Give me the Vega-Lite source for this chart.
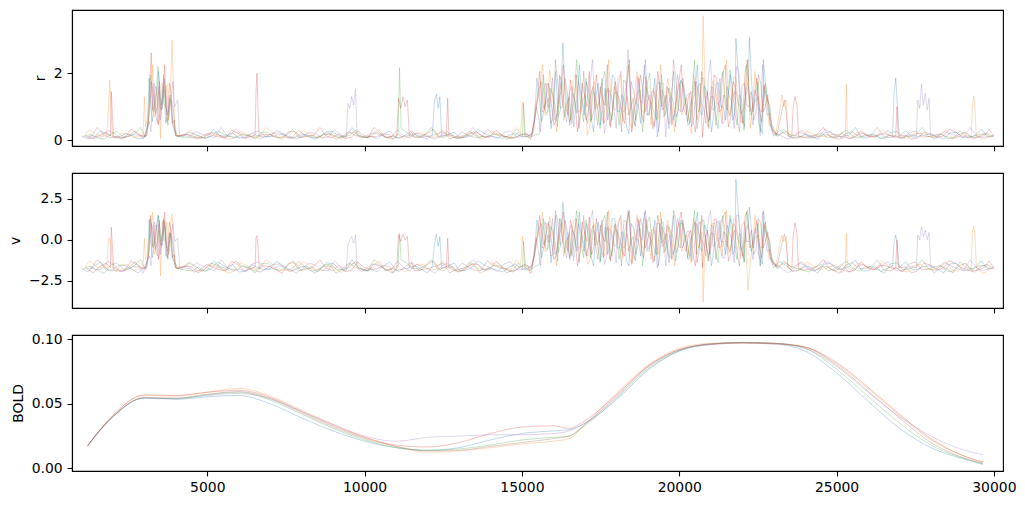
{
"$schema": "https://vega.github.io/schema/vega-lite/v6.json",
"padding": {"left": 8, "top": 9, "right": 5, "bottom": 5},
"bounds": "flush",
"config": {
 "view": {"stroke": "black", "strokeWidth": 1.1},
 "axis": {"grid": false, "domainColor": "black", "tickColor": "black", "tickWidth": 1.1, "domainWidth": 1.1, "labelColor": "black", "titleColor": "black", "labelFont": "DejaVu Sans", "titleFont": "DejaVu Sans", "labelFontSize": 13.9, "titleFontSize": 13.9, "titleFontWeight": "normal", "tickSize": 4.9, "labelPadding": 4.9, "titlePadding": 5.6}
},
"spacing": 27,
"datasets": {
"rv": [
{"s":0,"t":1000,"r":0.12,"v":-1.75},{"s":0,"t":1400,"r":0.08,"v":-1.62},{"s":0,"t":1800,"r":0.19,"v":-1.88},{"s":0,"t":2200,"r":0.10,"v":-1.55},{"s":0,"t":2600,"r":0.15,"v":-1.80},{"s":0,"t":3000,"r":0.09,"v":-1.70},
{"s":0,"t":3100,"r":0.45,"v":-1.2},{"s":0,"t":3200,"r":1.15,"v":0.3},{"s":0,"t":3300,"r":0.85,"v":-0.5},{"s":0,"t":3400,"r":1.45,"v":0.9},{"s":0,"t":3500,"r":0.95,"v":-0.2},{"s":0,"t":3600,"r":1.60,"v":1.2},{"s":0,"t":3700,"r":0.75,"v":-0.6},{"s":0,"t":3800,"r":1.25,"v":0.4},{"s":0,"t":3900,"r":0.55,"v":-1.0},{"s":0,"t":4000,"r":0.14,"v":-1.72},
{"s":0,"t":4200,"r":0.10,"v":-1.80},{"s":0,"t":4600,"r":0.18,"v":-1.58},{"s":0,"t":5000,"r":0.07,"v":-1.85},{"s":0,"t":5400,"r":0.13,"v":-1.66},{"s":0,"t":5800,"r":0.22,"v":-1.50},{"s":0,"t":6200,"r":0.09,"v":-1.92},{"s":0,"t":6600,"r":0.14,"v":-1.70},{"s":0,"t":7000,"r":0.11,"v":-1.78},{"s":0,"t":7400,"r":0.20,"v":-1.57},{"s":0,"t":7800,"r":0.08,"v":-1.83},{"s":0,"t":8200,"r":0.16,"v":-1.64},{"s":0,"t":8600,"r":0.12,"v":-1.76},{"s":0,"t":9000,"r":0.25,"v":-1.45},{"s":0,"t":9400,"r":0.09,"v":-1.90},{"s":0,"t":9800,"r":0.15,"v":-1.68},{"s":0,"t":10200,"r":0.11,"v":-1.81},{"s":0,"t":10600,"r":0.18,"v":-1.60},{"s":0,"t":11000,"r":0.07,"v":-1.87},{"s":0,"t":11400,"r":0.14,"v":-1.72},{"s":0,"t":11800,"r":0.10,"v":-1.79},
{"s":0,"t":12150,"r":0.16,"v":-1.62},{"s":0,"t":12220,"r":1.15,"v":-0.25},{"s":0,"t":12280,"r":1.38,"v":0.35},{"s":0,"t":12340,"r":0.95,"v":-0.40},{"s":0,"t":12390,"r":1.30,"v":0.20},{"s":0,"t":12450,"r":0.12,"v":-1.75},
{"s":0,"t":12700,"r":0.19,"v":-1.55},{"s":0,"t":13000,"r":0.08,"v":-1.86},{"s":0,"t":13400,"r":0.13,"v":-1.70},{"s":0,"t":13800,"r":0.21,"v":-1.52},{"s":0,"t":14200,"r":0.09,"v":-1.84},{"s":0,"t":14600,"r":0.15,"v":-1.66},{"s":0,"t":15000,"r":0.11,"v":-1.77},{"s":0,"t":15300,"r":0.18,"v":-1.60},
{"s":0,"t":15400,"r":0.60,"v":-0.9},{"s":0,"t":15550,"r":1.35,"v":0.5},{"s":0,"t":15700,"r":0.90,"v":-0.4},{"s":0,"t":15850,"r":1.70,"v":1.1},{"s":0,"t":16000,"r":1.05,"v":-0.1},{"s":0,"t":16150,"r":0.70,"v":-0.8},{"s":0,"t":16300,"r":2.90,"v":2.3},{"s":0,"t":16450,"r":0.95,"v":-0.3},{"s":0,"t":16600,"r":1.40,"v":0.6},{"s":0,"t":16750,"r":0.80,"v":-0.7},{"s":0,"t":16900,"r":1.20,"v":0.2},{"s":0,"t":17050,"r":1.75,"v":1.0},{"s":0,"t":17200,"r":0.65,"v":-1.0},{"s":0,"t":17350,"r":1.30,"v":0.4},{"s":0,"t":17500,"r":0.45,"v":-1.3},{"s":0,"t":17650,"r":1.55,"v":0.8},{"s":0,"t":17800,"r":1.00,"v":-0.2},{"s":0,"t":17950,"r":1.85,"v":1.3},{"s":0,"t":18100,"r":0.85,"v":-0.5},{"s":0,"t":18250,"r":1.25,"v":0.3},{"s":0,"t":18400,"r":0.20,"v":-1.6},{"s":0,"t":18550,"r":1.45,"v":0.7},{"s":0,"t":18700,"r":1.05,"v":0.0},{"s":0,"t":18850,"r":1.65,"v":1.0},{"s":0,"t":19000,"r":0.75,"v":-0.6},{"s":0,"t":19150,"r":1.20,"v":0.1},{"s":0,"t":19300,"r":0.10,"v":-1.7},{"s":0,"t":19450,"r":1.50,"v":0.8},{"s":0,"t":19600,"r":0.95,"v":-0.3},{"s":0,"t":19750,"r":1.35,"v":0.5},{"s":0,"t":19900,"r":0.70,"v":-0.8},{"s":0,"t":20050,"r":1.80,"v":1.2},{"s":0,"t":20200,"r":1.10,"v":0.1},{"s":0,"t":20350,"r":0.55,"v":-1.1},{"s":0,"t":20500,"r":1.40,"v":0.6},{"s":0,"t":20650,"r":0.90,"v":-0.4},{"s":0,"t":20800,"r":1.60,"v":0.9},{"s":0,"t":20950,"r":1.15,"v":0.2},{"s":0,"t":21100,"r":0.80,"v":-0.6},{"s":0,"t":21250,"r":1.70,"v":1.1},{"s":0,"t":21400,"r":1.00,"v":-0.1},{"s":0,"t":21550,"r":1.35,"v":0.4},{"s":0,"t":21700,"r":0.60,"v":-0.9},{"s":0,"t":21800,"r":3.03,"v":3.7},{"s":0,"t":21950,"r":0.95,"v":-0.4},{"s":0,"t":22100,"r":1.45,"v":0.6},{"s":0,"t":22230,"r":3.06,"v":2.0},{"s":0,"t":22350,"r":0.85,"v":-0.5},{"s":0,"t":22500,"r":1.30,"v":0.3},{"s":0,"t":22650,"r":0.20,"v":-1.5},{"s":0,"t":22800,"r":1.10,"v":0.0},{"s":0,"t":22900,"r":0.40,"v":-1.2},
{"s":0,"t":23000,"r":0.12,"v":-1.70},{"s":0,"t":23400,"r":0.17,"v":-1.58},{"s":0,"t":23800,"r":0.08,"v":-1.84},{"s":0,"t":24200,"r":0.14,"v":-1.68},{"s":0,"t":24600,"r":0.21,"v":-1.50},{"s":0,"t":25000,"r":0.10,"v":-1.80},{"s":0,"t":25400,"r":0.15,"v":-1.65},{"s":0,"t":25800,"r":0.07,"v":-1.90},{"s":0,"t":26200,"r":0.19,"v":-1.56},{"s":0,"t":26600,"r":0.12,"v":-1.74},{"s":0,"t":26780,"r":0.15,"v":-1.60},{"s":0,"t":26830,"r":1.40,"v":-0.10},{"s":0,"t":26880,"r":1.86,"v":0.30},{"s":0,"t":26930,"r":1.10,"v":-0.30},{"s":0,"t":26990,"r":0.13,"v":-1.70},{"s":0,"t":27400,"r":0.09,"v":-1.83},{"s":0,"t":27800,"r":0.16,"v":-1.62},{"s":0,"t":28200,"r":0.11,"v":-1.77},{"s":0,"t":28600,"r":0.22,"v":-1.48},{"s":0,"t":29000,"r":0.08,"v":-1.86},{"s":0,"t":29400,"r":0.14,"v":-1.70},{"s":0,"t":29800,"r":0.10,"v":-1.78},{"s":0,"t":30000,"r":0.13,"v":-1.72},
{"s":0,"t":1200,"r":0.05,"v":-1.95},{"s":0,"t":1600,"r":0.28,"v":-1.35},{"s":0,"t":2000,"r":0.11,"v":-1.80},{"s":0,"t":2400,"r":0.19,"v":-1.58},{"s":0,"t":2800,"r":0.04,"v":-2.02},
{"s":0,"t":4400,"r":0.24,"v":-1.42},{"s":0,"t":4800,"r":0.09,"v":-1.86},{"s":0,"t":5200,"r":0.33,"v":-1.28},{"s":0,"t":5600,"r":0.13,"v":-1.73},{"s":0,"t":6000,"r":0.06,"v":-1.97},{"s":0,"t":6400,"r":0.21,"v":-1.50},{"s":0,"t":6800,"r":0.10,"v":-1.83},{"s":0,"t":7200,"r":0.30,"v":-1.32},{"s":0,"t":7600,"r":0.07,"v":-1.92},{"s":0,"t":8000,"r":0.17,"v":-1.63},{"s":0,"t":8400,"r":0.03,"v":-2.05},{"s":0,"t":8800,"r":0.26,"v":-1.40},{"s":0,"t":9200,"r":0.12,"v":-1.77},{"s":0,"t":9600,"r":0.38,"v":-1.22},{"s":0,"t":10000,"r":0.08,"v":-1.90},{"s":0,"t":10400,"r":0.05,"v":-1.95},{"s":0,"t":10800,"r":0.28,"v":-1.35},{"s":0,"t":11200,"r":0.11,"v":-1.80},{"s":0,"t":11600,"r":0.19,"v":-1.58},{"s":0,"t":12000,"r":0.04,"v":-2.02},{"s":0,"t":12850,"r":0.24,"v":-1.42},{"s":0,"t":13200,"r":0.09,"v":-1.86},{"s":0,"t":13600,"r":0.33,"v":-1.28},{"s":0,"t":14000,"r":0.13,"v":-1.73},{"s":0,"t":14400,"r":0.06,"v":-1.97},{"s":0,"t":14800,"r":0.21,"v":-1.50},{"s":0,"t":15150,"r":0.10,"v":-1.83},
{"s":0,"t":23200,"r":0.30,"v":-1.32},{"s":0,"t":23600,"r":0.07,"v":-1.92},{"s":0,"t":24000,"r":0.17,"v":-1.63},{"s":0,"t":24400,"r":0.03,"v":-2.05},{"s":0,"t":24800,"r":0.26,"v":-1.40},{"s":0,"t":25200,"r":0.12,"v":-1.77},{"s":0,"t":25600,"r":0.38,"v":-1.22},{"s":0,"t":26000,"r":0.08,"v":-1.90},{"s":0,"t":26400,"r":0.05,"v":-1.95},{"s":0,"t":27200,"r":0.28,"v":-1.35},{"s":0,"t":27600,"r":0.11,"v":-1.80},{"s":0,"t":28000,"r":0.19,"v":-1.58},{"s":0,"t":28400,"r":0.04,"v":-2.02},{"s":0,"t":28800,"r":0.24,"v":-1.42},{"s":0,"t":29200,"r":0.09,"v":-1.86},{"s":0,"t":29600,"r":0.33,"v":-1.28},
{"s":0,"t":3150,"r":1.85,"v":1.2},{"s":0,"t":3250,"r":0.55,"v":-1.1},{"s":0,"t":3350,"r":1.30,"v":0.4},{"s":0,"t":3450,"r":2.05,"v":1.5},{"s":0,"t":3550,"r":0.90,"v":-0.4},{"s":0,"t":3650,"r":1.60,"v":0.9},{"s":0,"t":3750,"r":0.45,"v":-1.2},{"s":0,"t":3850,"r":1.20,"v":0.2},
{"s":0,"t":15475,"r":1.85,"v":1.2},{"s":0,"t":15625,"r":0.55,"v":-1.1},{"s":0,"t":15775,"r":1.30,"v":0.4},{"s":0,"t":15925,"r":0.35,"v":-1.4},{"s":0,"t":16075,"r":2.05,"v":1.5},{"s":0,"t":16225,"r":0.90,"v":-0.4},{"s":0,"t":16375,"r":1.60,"v":0.9},{"s":0,"t":16525,"r":0.45,"v":-1.2},{"s":0,"t":16675,"r":1.20,"v":0.2},{"s":0,"t":16825,"r":2.25,"v":1.7},{"s":0,"t":16975,"r":0.75,"v":-0.7},{"s":0,"t":17125,"r":1.45,"v":0.6},{"s":0,"t":17275,"r":0.25,"v":-1.6},{"s":0,"t":17425,"r":1.70,"v":1.1},{"s":0,"t":17575,"r":1.00,"v":-0.1},{"s":0,"t":17725,"r":0.60,"v":-0.9},{"s":0,"t":17875,"r":1.95,"v":1.3},{"s":0,"t":18025,"r":0.85,"v":-0.5},{"s":0,"t":18175,"r":1.35,"v":0.5},{"s":0,"t":18325,"r":0.40,"v":-1.3},{"s":0,"t":18475,"r":1.75,"v":1.0},{"s":0,"t":18625,"r":1.10,"v":0.0},{"s":0,"t":18775,"r":0.50,"v":-1.0},{"s":0,"t":18925,"r":2.40,"v":1.8},{"s":0,"t":19075,"r":0.95,"v":-0.3},{"s":0,"t":19225,"r":1.85,"v":1.2},{"s":0,"t":19375,"r":0.55,"v":-1.1},{"s":0,"t":19525,"r":1.30,"v":0.4},{"s":0,"t":19675,"r":0.35,"v":-1.4},{"s":0,"t":19825,"r":2.05,"v":1.5},{"s":0,"t":19975,"r":0.90,"v":-0.4},{"s":0,"t":20125,"r":1.60,"v":0.9},{"s":0,"t":20275,"r":0.45,"v":-1.2},{"s":0,"t":20425,"r":1.20,"v":0.2},{"s":0,"t":20575,"r":2.25,"v":1.7},{"s":0,"t":20725,"r":0.75,"v":-0.7},{"s":0,"t":20875,"r":1.45,"v":0.6},{"s":0,"t":21025,"r":0.25,"v":-1.6},{"s":0,"t":21175,"r":1.70,"v":1.1},{"s":0,"t":21325,"r":1.00,"v":-0.1},{"s":0,"t":21475,"r":0.60,"v":-0.9},{"s":0,"t":21625,"r":1.95,"v":1.3},{"s":0,"t":21775,"r":0.85,"v":-0.5},{"s":0,"t":21925,"r":1.35,"v":0.5},{"s":0,"t":22075,"r":0.40,"v":-1.3},{"s":0,"t":22200,"r":1.75,"v":1.0},{"s":0,"t":22375,"r":1.10,"v":0.0},{"s":0,"t":22525,"r":0.50,"v":-1.0},{"s":0,"t":22675,"r":2.40,"v":1.8},{"s":0,"t":22825,"r":0.95,"v":-0.3},

{"s":1,"t":1060,"r":0.09,"v":-1.82},{"s":1,"t":1460,"r":0.17,"v":-1.60},{"s":1,"t":1800,"r":0.12,"v":-1.75},{"s":1,"t":1860,"r":0.95,"v":0.10},{"s":1,"t":1900,"r":1.80,"v":0.05},{"s":1,"t":1940,"r":0.90,"v":-0.30},{"s":1,"t":1990,"r":0.11,"v":-1.70},{"s":1,"t":2260,"r":0.20,"v":-1.52},{"s":1,"t":2660,"r":0.08,"v":-1.87},{"s":1,"t":2960,"r":0.15,"v":-1.66},{"s":1,"t":3000,"r":1.30,"v":0.10},{"s":1,"t":3040,"r":0.40,"v":-1.2},
{"s":1,"t":3115,"r":0.80,"v":-0.6},{"s":1,"t":3215,"r":1.50,"v":0.9},{"s":1,"t":3315,"r":0.70,"v":-0.9},{"s":1,"t":3415,"r":1.25,"v":0.3},{"s":1,"t":3515,"r":0.05,"v":-2.2},{"s":1,"t":3615,"r":1.10,"v":0.0},{"s":1,"t":3715,"r":1.65,"v":1.1},{"s":1,"t":3815,"r":0.95,"v":-0.4},{"s":1,"t":3880,"r":2.98,"v":1.6},{"s":1,"t":3950,"r":0.60,"v":-1.0},{"s":1,"t":4015,"r":0.13,"v":-1.75},
{"s":1,"t":4260,"r":0.16,"v":-1.63},{"s":1,"t":4660,"r":0.09,"v":-1.84},{"s":1,"t":5060,"r":0.21,"v":-1.52},{"s":1,"t":5460,"r":0.12,"v":-1.74},{"s":1,"t":5860,"r":0.07,"v":-1.90},{"s":1,"t":6260,"r":0.17,"v":-1.60},{"s":1,"t":6660,"r":0.11,"v":-1.79},{"s":1,"t":7060,"r":0.24,"v":-1.47},{"s":1,"t":7460,"r":0.09,"v":-1.85},{"s":1,"t":7860,"r":0.14,"v":-1.69},{"s":1,"t":8260,"r":0.19,"v":-1.57},{"s":1,"t":8660,"r":0.08,"v":-1.88},{"s":1,"t":9060,"r":0.13,"v":-1.71},{"s":1,"t":9460,"r":0.20,"v":-1.55},{"s":1,"t":9860,"r":0.10,"v":-1.81},{"s":1,"t":10260,"r":0.15,"v":-1.65},{"s":1,"t":10660,"r":0.07,"v":-1.89},{"s":1,"t":11060,"r":0.18,"v":-1.58},{"s":1,"t":11460,"r":0.12,"v":-1.76},{"s":1,"t":11860,"r":0.22,"v":-1.50},{"s":1,"t":12260,"r":0.09,"v":-1.83},{"s":1,"t":12660,"r":0.14,"v":-1.68},{"s":1,"t":13060,"r":0.11,"v":-1.78},{"s":1,"t":13460,"r":0.26,"v":-1.42},{"s":1,"t":13860,"r":0.08,"v":-1.86},{"s":1,"t":14260,"r":0.16,"v":-1.62},{"s":1,"t":14660,"r":0.10,"v":-1.80},{"s":1,"t":14960,"r":0.20,"v":-1.50},{"s":1,"t":15020,"r":1.15,"v":0.20},{"s":1,"t":15060,"r":0.85,"v":-0.30},{"s":1,"t":15120,"r":0.13,"v":-1.70},{"s":1,"t":15320,"r":0.17,"v":-1.62},
{"s":1,"t":15430,"r":1.05,"v":-0.2},{"s":1,"t":15580,"r":1.60,"v":0.9},{"s":1,"t":15730,"r":0.75,"v":-0.7},{"s":1,"t":15880,"r":2.10,"v":1.4},{"s":1,"t":16030,"r":0.95,"v":-0.3},{"s":1,"t":16180,"r":1.40,"v":0.5},{"s":1,"t":16330,"r":0.60,"v":-1.0},{"s":1,"t":16480,"r":1.25,"v":0.2},{"s":1,"t":16630,"r":1.80,"v":1.1},{"s":1,"t":16780,"r":0.85,"v":-0.5},{"s":1,"t":16930,"r":1.15,"v":0.1},{"s":1,"t":17080,"r":0.15,"v":-1.5},{"s":1,"t":17230,"r":1.50,"v":0.7},{"s":1,"t":17380,"r":1.00,"v":-0.2},{"s":1,"t":17530,"r":1.70,"v":1.0},{"s":1,"t":17680,"r":0.70,"v":-0.8},{"s":1,"t":17830,"r":1.30,"v":0.4},{"s":1,"t":17980,"r":0.90,"v":-0.4},{"s":1,"t":18130,"r":1.95,"v":1.3},{"s":1,"t":18280,"r":1.05,"v":-0.1},{"s":1,"t":18430,"r":0.50,"v":-1.2},{"s":1,"t":18580,"r":1.35,"v":0.5},{"s":1,"t":18730,"r":1.75,"v":1.0},{"s":1,"t":18880,"r":0.80,"v":-0.6},{"s":1,"t":19030,"r":1.20,"v":0.2},{"s":1,"t":19180,"r":1.55,"v":0.8},{"s":1,"t":19330,"r":0.65,"v":-0.9},{"s":1,"t":19480,"r":1.10,"v":0.0},{"s":1,"t":19630,"r":1.85,"v":1.2},{"s":1,"t":19780,"r":0.95,"v":-0.3},{"s":1,"t":19930,"r":1.40,"v":0.6},{"s":1,"t":20080,"r":0.75,"v":-0.7},{"s":1,"t":20230,"r":1.25,"v":0.3},{"s":1,"t":20380,"r":0.20,"v":-1.4},{"s":1,"t":20530,"r":1.60,"v":0.9},{"s":1,"t":20680,"r":1.00,"v":-0.1},{"s":1,"t":20760,"r":3.71,"v":-3.8},{"s":1,"t":20830,"r":1.30,"v":0.3},{"s":1,"t":20980,"r":0.85,"v":-0.5},{"s":1,"t":21130,"r":1.65,"v":1.0},{"s":1,"t":21280,"r":1.05,"v":-0.2},{"s":1,"t":21430,"r":1.45,"v":0.6},{"s":1,"t":21580,"r":0.70,"v":-0.8},{"s":1,"t":21730,"r":1.90,"v":1.3},{"s":1,"t":21880,"r":1.10,"v":0.0},{"s":1,"t":22030,"r":0.55,"v":-1.1},{"s":1,"t":22180,"r":2.40,"v":-3.1},{"s":1,"t":22330,"r":1.00,"v":-0.3},{"s":1,"t":22480,"r":1.50,"v":0.7},{"s":1,"t":22630,"r":0.85,"v":-0.5},{"s":1,"t":22780,"r":1.20,"v":0.2},{"s":1,"t":22920,"r":0.45,"v":-1.1},
{"s":1,"t":23060,"r":0.14,"v":-1.68},{"s":1,"t":23200,"r":0.90,"v":-0.20},{"s":1,"t":23260,"r":1.35,"v":0.30},{"s":1,"t":23320,"r":1.00,"v":-0.10},{"s":1,"t":23400,"r":1.20,"v":0.20},{"s":1,"t":23460,"r":0.15,"v":-1.62},{"s":1,"t":23860,"r":0.09,"v":-1.85},{"s":1,"t":24260,"r":0.18,"v":-1.57},{"s":1,"t":24660,"r":0.11,"v":-1.77},{"s":1,"t":25060,"r":0.16,"v":-1.64},{"s":1,"t":25280,"r":0.12,"v":-1.72},{"s":1,"t":25310,"r":1.67,"v":0.40},{"s":1,"t":25340,"r":0.14,"v":-1.66},{"s":1,"t":25460,"r":0.08,"v":-1.87},{"s":1,"t":25860,"r":0.20,"v":-1.53},{"s":1,"t":26260,"r":0.10,"v":-1.80},{"s":1,"t":26660,"r":0.15,"v":-1.66},{"s":1,"t":27060,"r":0.07,"v":-1.91},{"s":1,"t":27460,"r":0.19,"v":-1.56},{"s":1,"t":27860,"r":0.12,"v":-1.75},{"s":1,"t":28260,"r":0.16,"v":-1.63},{"s":1,"t":28660,"r":0.09,"v":-1.84},{"s":1,"t":29060,"r":0.23,"v":-1.46},{"s":1,"t":29280,"r":0.11,"v":-1.78},{"s":1,"t":29320,"r":1.05,"v":0.55},{"s":1,"t":29360,"r":1.32,"v":0.85},{"s":1,"t":29400,"r":0.95,"v":0.30},{"s":1,"t":29440,"r":0.13,"v":-1.70},{"s":1,"t":29860,"r":0.10,"v":-1.80},{"s":1,"t":30000,"r":0.15,"v":-1.64},
{"s":1,"t":1260,"r":0.33,"v":-1.28},{"s":1,"t":1660,"r":0.13,"v":-1.73},{"s":1,"t":2100,"r":0.06,"v":-1.97},{"s":1,"t":2460,"r":0.21,"v":-1.50},{"s":1,"t":2760,"r":0.10,"v":-1.83},
{"s":1,"t":4460,"r":0.30,"v":-1.32},{"s":1,"t":4860,"r":0.07,"v":-1.92},{"s":1,"t":5260,"r":0.17,"v":-1.63},{"s":1,"t":5660,"r":0.03,"v":-2.05},{"s":1,"t":6060,"r":0.26,"v":-1.40},{"s":1,"t":6460,"r":0.12,"v":-1.77},{"s":1,"t":6860,"r":0.38,"v":-1.22},{"s":1,"t":7260,"r":0.08,"v":-1.90},{"s":1,"t":7660,"r":0.05,"v":-1.95},{"s":1,"t":8060,"r":0.28,"v":-1.35},{"s":1,"t":8460,"r":0.11,"v":-1.80},{"s":1,"t":8860,"r":0.19,"v":-1.58},{"s":1,"t":9260,"r":0.04,"v":-2.02},{"s":1,"t":9660,"r":0.24,"v":-1.42},{"s":1,"t":10060,"r":0.09,"v":-1.86},{"s":1,"t":10460,"r":0.33,"v":-1.28},{"s":1,"t":10860,"r":0.13,"v":-1.73},{"s":1,"t":11260,"r":0.06,"v":-1.97},{"s":1,"t":11660,"r":0.21,"v":-1.50},{"s":1,"t":12060,"r":0.10,"v":-1.83},{"s":1,"t":12460,"r":0.30,"v":-1.32},{"s":1,"t":12860,"r":0.07,"v":-1.92},{"s":1,"t":13260,"r":0.17,"v":-1.63},{"s":1,"t":13660,"r":0.03,"v":-2.05},{"s":1,"t":14060,"r":0.26,"v":-1.40},{"s":1,"t":14460,"r":0.12,"v":-1.77},{"s":1,"t":14820,"r":0.38,"v":-1.22},{"s":1,"t":15220,"r":0.08,"v":-1.90},
{"s":1,"t":23660,"r":0.05,"v":-1.95},{"s":1,"t":24060,"r":0.28,"v":-1.35},{"s":1,"t":24460,"r":0.11,"v":-1.80},{"s":1,"t":24860,"r":0.19,"v":-1.58},{"s":1,"t":25170,"r":0.04,"v":-2.02},{"s":1,"t":25660,"r":0.24,"v":-1.42},{"s":1,"t":26060,"r":0.09,"v":-1.86},{"s":1,"t":26460,"r":0.33,"v":-1.28},{"s":1,"t":26860,"r":0.13,"v":-1.73},{"s":1,"t":27260,"r":0.06,"v":-1.97},{"s":1,"t":27660,"r":0.21,"v":-1.50},{"s":1,"t":28060,"r":0.10,"v":-1.83},{"s":1,"t":28460,"r":0.30,"v":-1.32},{"s":1,"t":28860,"r":0.07,"v":-1.92},{"s":1,"t":29180,"r":0.17,"v":-1.63},{"s":1,"t":29660,"r":0.03,"v":-2.05},
{"s":1,"t":3165,"r":1.20,"v":0.2},{"s":1,"t":3265,"r":2.25,"v":1.7},{"s":1,"t":3365,"r":0.75,"v":-0.7},{"s":1,"t":3465,"r":1.45,"v":0.6},{"s":1,"t":3565,"r":1.70,"v":1.1},{"s":1,"t":3665,"r":1.00,"v":-0.1},{"s":1,"t":3765,"r":0.60,"v":-0.9},{"s":1,"t":3845,"r":1.95,"v":1.3},
{"s":1,"t":15505,"r":1.20,"v":0.2},{"s":1,"t":15655,"r":2.25,"v":1.7},{"s":1,"t":15805,"r":0.75,"v":-0.7},{"s":1,"t":15955,"r":1.45,"v":0.6},{"s":1,"t":16105,"r":0.25,"v":-1.6},{"s":1,"t":16255,"r":1.70,"v":1.1},{"s":1,"t":16405,"r":1.00,"v":-0.1},{"s":1,"t":16555,"r":0.60,"v":-0.9},{"s":1,"t":16705,"r":1.95,"v":1.3},{"s":1,"t":16855,"r":0.85,"v":-0.5},{"s":1,"t":17005,"r":1.35,"v":0.5},{"s":1,"t":17155,"r":0.40,"v":-1.3},{"s":1,"t":17305,"r":1.75,"v":1.0},{"s":1,"t":17455,"r":1.10,"v":0.0},{"s":1,"t":17605,"r":0.50,"v":-1.0},{"s":1,"t":17755,"r":2.40,"v":1.8},{"s":1,"t":17905,"r":0.95,"v":-0.3},{"s":1,"t":18055,"r":1.85,"v":1.2},{"s":1,"t":18205,"r":0.55,"v":-1.1},{"s":1,"t":18355,"r":1.30,"v":0.4},{"s":1,"t":18505,"r":0.35,"v":-1.4},{"s":1,"t":18655,"r":2.05,"v":1.5},{"s":1,"t":18805,"r":0.90,"v":-0.4},{"s":1,"t":18955,"r":1.60,"v":0.9},{"s":1,"t":19105,"r":0.45,"v":-1.2},{"s":1,"t":19255,"r":1.20,"v":0.2},{"s":1,"t":19405,"r":2.25,"v":1.7},{"s":1,"t":19555,"r":0.75,"v":-0.7},{"s":1,"t":19705,"r":1.45,"v":0.6},{"s":1,"t":19855,"r":0.25,"v":-1.6},{"s":1,"t":20005,"r":1.70,"v":1.1},{"s":1,"t":20155,"r":1.00,"v":-0.1},{"s":1,"t":20305,"r":0.60,"v":-0.9},{"s":1,"t":20455,"r":1.95,"v":1.3},{"s":1,"t":20605,"r":0.85,"v":-0.5},{"s":1,"t":20720,"r":1.35,"v":0.5},{"s":1,"t":20905,"r":0.40,"v":-1.3},{"s":1,"t":21055,"r":1.75,"v":1.0},{"s":1,"t":21205,"r":1.10,"v":0.0},{"s":1,"t":21355,"r":0.50,"v":-1.0},{"s":1,"t":21505,"r":2.40,"v":1.8},{"s":1,"t":21655,"r":0.95,"v":-0.3},{"s":1,"t":21805,"r":1.85,"v":1.2},{"s":1,"t":21955,"r":0.55,"v":-1.1},{"s":1,"t":22105,"r":1.30,"v":0.4},{"s":1,"t":22255,"r":0.35,"v":-1.4},{"s":1,"t":22405,"r":2.05,"v":1.5},{"s":1,"t":22555,"r":0.90,"v":-0.4},{"s":1,"t":22705,"r":1.60,"v":0.9},{"s":1,"t":22855,"r":0.45,"v":-1.2},

{"s":2,"t":1120,"r":0.14,"v":-1.69},{"s":2,"t":1520,"r":0.07,"v":-1.88},{"s":2,"t":1920,"r":0.18,"v":-1.57},{"s":2,"t":2320,"r":0.11,"v":-1.78},{"s":2,"t":2720,"r":0.22,"v":-1.50},{"s":2,"t":3030,"r":0.10,"v":-1.80},
{"s":2,"t":3130,"r":0.60,"v":-1.0},{"s":2,"t":3230,"r":1.35,"v":0.6},{"s":2,"t":3330,"r":0.90,"v":-0.3},{"s":2,"t":3430,"r":2.20,"v":1.5},{"s":2,"t":3530,"r":1.05,"v":-0.1},{"s":2,"t":3630,"r":1.50,"v":0.8},{"s":2,"t":3730,"r":0.70,"v":-0.8},{"s":2,"t":3830,"r":1.20,"v":0.3},{"s":2,"t":3930,"r":0.35,"v":-1.3},{"s":2,"t":4030,"r":0.12,"v":-1.74},
{"s":2,"t":4320,"r":0.08,"v":-1.86},{"s":2,"t":4720,"r":0.15,"v":-1.65},{"s":2,"t":5120,"r":0.11,"v":-1.77},{"s":2,"t":5520,"r":0.19,"v":-1.56},{"s":2,"t":5920,"r":0.09,"v":-1.84},{"s":2,"t":6320,"r":0.14,"v":-1.70},{"s":2,"t":6720,"r":0.24,"v":-1.46},{"s":2,"t":7120,"r":0.10,"v":-1.81},{"s":2,"t":7520,"r":0.16,"v":-1.63},{"s":2,"t":7920,"r":0.07,"v":-1.90},{"s":2,"t":8320,"r":0.13,"v":-1.72},{"s":2,"t":8720,"r":0.21,"v":-1.52},{"s":2,"t":9120,"r":0.09,"v":-1.85},{"s":2,"t":9520,"r":0.15,"v":-1.66},{"s":2,"t":9920,"r":0.11,"v":-1.78},{"s":2,"t":10320,"r":0.26,"v":-1.43},{"s":2,"t":10720,"r":0.08,"v":-1.87},{"s":2,"t":11060,"r":0.14,"v":-1.68},{"s":2,"t":11110,"r":2.16,"v":0.40},{"s":2,"t":11160,"r":0.35,"v":-1.20},{"s":2,"t":11520,"r":0.12,"v":-1.75},{"s":2,"t":11920,"r":0.17,"v":-1.60},{"s":2,"t":12320,"r":0.10,"v":-1.80},{"s":2,"t":12720,"r":0.20,"v":-1.54},{"s":2,"t":13120,"r":0.08,"v":-1.88},{"s":2,"t":13520,"r":0.14,"v":-1.69},{"s":2,"t":13920,"r":0.11,"v":-1.77},{"s":2,"t":14320,"r":0.18,"v":-1.58},{"s":2,"t":14720,"r":0.09,"v":-1.83},{"s":2,"t":15020,"r":0.13,"v":-1.71},{"s":2,"t":15050,"r":1.10,"v":-0.1},{"s":2,"t":15090,"r":0.12,"v":-1.72},{"s":2,"t":15420,"r":0.16,"v":-1.62},{"s":2,"t":15560,"r":0.20,"v":-1.50},
{"s":2,"t":15610,"r":1.20,"v":0.3},{"s":2,"t":15760,"r":0.80,"v":-0.6},{"s":2,"t":15910,"r":1.55,"v":0.8},{"s":2,"t":16060,"r":1.00,"v":-0.2},{"s":2,"t":16210,"r":1.90,"v":1.3},{"s":2,"t":16360,"r":0.70,"v":-0.8},{"s":2,"t":16510,"r":1.30,"v":0.4},{"s":2,"t":16660,"r":0.95,"v":-0.3},{"s":2,"t":16810,"r":1.65,"v":1.0},{"s":2,"t":16960,"r":0.55,"v":-1.1},{"s":2,"t":17110,"r":1.20,"v":0.2},{"s":2,"t":17260,"r":1.45,"v":0.6},{"s":2,"t":17410,"r":0.85,"v":-0.5},{"s":2,"t":17560,"r":1.75,"v":1.1},{"s":2,"t":17710,"r":1.05,"v":-0.1},{"s":2,"t":17860,"r":0.60,"v":-1.0},{"s":2,"t":18010,"r":1.35,"v":0.5},{"s":2,"t":18160,"r":0.90,"v":-0.4},{"s":2,"t":18310,"r":1.60,"v":0.9},{"s":2,"t":18460,"r":1.10,"v":0.0},{"s":2,"t":18610,"r":0.40,"v":-1.3},{"s":2,"t":18760,"r":1.50,"v":0.7},{"s":2,"t":18910,"r":1.00,"v":-0.2},{"s":2,"t":19060,"r":2.00,"v":1.4},{"s":2,"t":19210,"r":0.80,"v":-0.6},{"s":2,"t":19360,"r":1.25,"v":0.3},{"s":2,"t":19510,"r":0.70,"v":-0.8},{"s":2,"t":19660,"r":1.55,"v":0.8},{"s":2,"t":19810,"r":1.15,"v":0.1},{"s":2,"t":19960,"r":0.90,"v":-0.4},{"s":2,"t":20110,"r":1.70,"v":1.0},{"s":2,"t":20260,"r":1.00,"v":-0.2},{"s":2,"t":20410,"r":1.40,"v":0.5},{"s":2,"t":20560,"r":0.60,"v":-0.9},{"s":2,"t":20710,"r":1.85,"v":1.2},{"s":2,"t":20860,"r":0.95,"v":-0.3},{"s":2,"t":21010,"r":1.30,"v":0.4},{"s":2,"t":21160,"r":0.75,"v":-0.7},{"s":2,"t":21310,"r":1.60,"v":0.9},{"s":2,"t":21460,"r":1.05,"v":-0.1},{"s":2,"t":21610,"r":2.10,"v":1.5},{"s":2,"t":21760,"r":0.85,"v":-0.5},{"s":2,"t":21910,"r":1.35,"v":0.4},{"s":2,"t":22060,"r":0.30,"v":-1.4},{"s":2,"t":22210,"r":1.50,"v":0.7},{"s":2,"t":22360,"r":1.00,"v":-0.2},{"s":2,"t":22510,"r":1.75,"v":1.0},{"s":2,"t":22660,"r":0.90,"v":-0.4},{"s":2,"t":22810,"r":1.20,"v":0.2},{"s":2,"t":22930,"r":0.50,"v":-1.0},
{"s":2,"t":23120,"r":0.11,"v":-1.78},{"s":2,"t":23520,"r":0.17,"v":-1.60},{"s":2,"t":23920,"r":0.09,"v":-1.85},{"s":2,"t":24320,"r":0.14,"v":-1.68},{"s":2,"t":24720,"r":0.08,"v":-1.88},{"s":2,"t":25120,"r":0.20,"v":-1.54},{"s":2,"t":25520,"r":0.12,"v":-1.74},{"s":2,"t":25920,"r":0.16,"v":-1.63},{"s":2,"t":26320,"r":0.10,"v":-1.82},{"s":2,"t":26720,"r":0.23,"v":-1.47},{"s":2,"t":27120,"r":0.09,"v":-1.84},{"s":2,"t":27520,"r":0.15,"v":-1.66},{"s":2,"t":27920,"r":0.11,"v":-1.77},{"s":2,"t":28320,"r":0.19,"v":-1.56},{"s":2,"t":28720,"r":0.07,"v":-1.90},{"s":2,"t":29120,"r":0.13,"v":-1.71},{"s":2,"t":29520,"r":0.18,"v":-1.58},{"s":2,"t":29920,"r":0.10,"v":-1.80},
{"s":2,"t":1320,"r":0.17,"v":-1.63},{"s":2,"t":1720,"r":0.03,"v":-2.05},{"s":2,"t":2120,"r":0.26,"v":-1.40},{"s":2,"t":2520,"r":0.12,"v":-1.77},{"s":2,"t":2880,"r":0.38,"v":-1.22},
{"s":2,"t":4520,"r":0.08,"v":-1.90},{"s":2,"t":4920,"r":0.05,"v":-1.95},{"s":2,"t":5320,"r":0.28,"v":-1.35},{"s":2,"t":5720,"r":0.11,"v":-1.80},{"s":2,"t":6120,"r":0.19,"v":-1.58},{"s":2,"t":6520,"r":0.04,"v":-2.02},{"s":2,"t":6920,"r":0.24,"v":-1.42},{"s":2,"t":7320,"r":0.09,"v":-1.86},{"s":2,"t":7720,"r":0.33,"v":-1.28},{"s":2,"t":8120,"r":0.13,"v":-1.73},{"s":2,"t":8520,"r":0.06,"v":-1.97},{"s":2,"t":8920,"r":0.21,"v":-1.50},{"s":2,"t":9320,"r":0.10,"v":-1.83},{"s":2,"t":9720,"r":0.30,"v":-1.32},{"s":2,"t":10120,"r":0.07,"v":-1.92},{"s":2,"t":10520,"r":0.17,"v":-1.63},{"s":2,"t":10900,"r":0.03,"v":-2.05},{"s":2,"t":11320,"r":0.26,"v":-1.40},{"s":2,"t":11720,"r":0.12,"v":-1.77},{"s":2,"t":12120,"r":0.38,"v":-1.22},{"s":2,"t":12520,"r":0.08,"v":-1.90},{"s":2,"t":12920,"r":0.05,"v":-1.95},{"s":2,"t":13320,"r":0.28,"v":-1.35},{"s":2,"t":13720,"r":0.11,"v":-1.80},{"s":2,"t":14120,"r":0.19,"v":-1.58},{"s":2,"t":14520,"r":0.04,"v":-2.02},{"s":2,"t":14880,"r":0.24,"v":-1.42},{"s":2,"t":15250,"r":0.09,"v":-1.86},
{"s":2,"t":23320,"r":0.33,"v":-1.28},{"s":2,"t":23720,"r":0.13,"v":-1.73},{"s":2,"t":24120,"r":0.06,"v":-1.97},{"s":2,"t":24520,"r":0.21,"v":-1.50},{"s":2,"t":24920,"r":0.10,"v":-1.83},{"s":2,"t":25320,"r":0.30,"v":-1.32},{"s":2,"t":25720,"r":0.07,"v":-1.92},{"s":2,"t":26120,"r":0.17,"v":-1.63},{"s":2,"t":26520,"r":0.03,"v":-2.05},{"s":2,"t":26920,"r":0.26,"v":-1.40},{"s":2,"t":27320,"r":0.12,"v":-1.77},{"s":2,"t":27720,"r":0.38,"v":-1.22},{"s":2,"t":28120,"r":0.08,"v":-1.90},{"s":2,"t":28520,"r":0.05,"v":-1.95},{"s":2,"t":28920,"r":0.28,"v":-1.35},{"s":2,"t":29320,"r":0.11,"v":-1.80},{"s":2,"t":29720,"r":0.19,"v":-1.58},
{"s":2,"t":3180,"r":1.95,"v":1.3},{"s":2,"t":3280,"r":0.85,"v":-0.5},{"s":2,"t":3380,"r":1.35,"v":0.5},{"s":2,"t":3480,"r":1.75,"v":1.0},{"s":2,"t":3580,"r":1.10,"v":0.0},{"s":2,"t":3680,"r":0.50,"v":-1.0},{"s":2,"t":3780,"r":0.95,"v":-0.3},{"s":2,"t":3880,"r":0.55,"v":-1.1},
{"s":2,"t":15685,"r":1.95,"v":1.3},{"s":2,"t":15835,"r":0.85,"v":-0.5},{"s":2,"t":15985,"r":1.35,"v":0.5},{"s":2,"t":16135,"r":0.40,"v":-1.3},{"s":2,"t":16285,"r":1.75,"v":1.0},{"s":2,"t":16435,"r":1.10,"v":0.0},{"s":2,"t":16585,"r":0.50,"v":-1.0},{"s":2,"t":16735,"r":2.40,"v":1.8},{"s":2,"t":16885,"r":0.95,"v":-0.3},{"s":2,"t":17035,"r":1.85,"v":1.2},{"s":2,"t":17185,"r":0.55,"v":-1.1},{"s":2,"t":17335,"r":1.30,"v":0.4},{"s":2,"t":17485,"r":0.35,"v":-1.4},{"s":2,"t":17635,"r":2.05,"v":1.5},{"s":2,"t":17785,"r":0.90,"v":-0.4},{"s":2,"t":17935,"r":1.60,"v":0.9},{"s":2,"t":18085,"r":0.45,"v":-1.2},{"s":2,"t":18235,"r":1.20,"v":0.2},{"s":2,"t":18385,"r":2.25,"v":1.7},{"s":2,"t":18535,"r":0.75,"v":-0.7},{"s":2,"t":18685,"r":1.45,"v":0.6},{"s":2,"t":18835,"r":0.25,"v":-1.6},{"s":2,"t":18985,"r":1.70,"v":1.1},{"s":2,"t":19135,"r":1.00,"v":-0.1},{"s":2,"t":19285,"r":0.60,"v":-0.9},{"s":2,"t":19435,"r":1.95,"v":1.3},{"s":2,"t":19585,"r":0.85,"v":-0.5},{"s":2,"t":19735,"r":1.35,"v":0.5},{"s":2,"t":19885,"r":0.40,"v":-1.3},{"s":2,"t":20035,"r":1.75,"v":1.0},{"s":2,"t":20185,"r":1.10,"v":0.0},{"s":2,"t":20335,"r":0.50,"v":-1.0},{"s":2,"t":20485,"r":2.40,"v":1.8},{"s":2,"t":20635,"r":0.95,"v":-0.3},{"s":2,"t":20785,"r":1.85,"v":1.2},{"s":2,"t":20935,"r":0.55,"v":-1.1},{"s":2,"t":21085,"r":1.30,"v":0.4},{"s":2,"t":21235,"r":0.35,"v":-1.4},{"s":2,"t":21385,"r":2.05,"v":1.5},{"s":2,"t":21535,"r":0.90,"v":-0.4},{"s":2,"t":21685,"r":1.60,"v":0.9},{"s":2,"t":21835,"r":0.45,"v":-1.2},{"s":2,"t":21985,"r":1.20,"v":0.2},{"s":2,"t":22135,"r":2.25,"v":1.7},{"s":2,"t":22285,"r":0.75,"v":-0.7},{"s":2,"t":22435,"r":1.45,"v":0.6},{"s":2,"t":22585,"r":0.25,"v":-1.6},{"s":2,"t":22735,"r":1.70,"v":1.1},{"s":2,"t":22885,"r":1.00,"v":-0.1},

{"s":3,"t":1180,"r":0.10,"v":-1.79},{"s":3,"t":1580,"r":0.16,"v":-1.63},{"s":3,"t":1920,"r":0.13,"v":-1.70},{"s":3,"t":1950,"r":1.45,"v":0.77},{"s":3,"t":1980,"r":0.85,"v":-0.20},{"s":3,"t":2020,"r":0.12,"v":-1.72},{"s":3,"t":2380,"r":0.08,"v":-1.86},{"s":3,"t":2780,"r":0.19,"v":-1.55},{"s":3,"t":3080,"r":0.14,"v":-1.66},
{"s":3,"t":3145,"r":0.70,"v":-0.8},{"s":3,"t":3220,"r":2.60,"v":1.0},{"s":3,"t":3300,"r":1.00,"v":-0.2},{"s":3,"t":3395,"r":1.55,"v":0.9},{"s":3,"t":3495,"r":0.80,"v":-0.6},{"s":3,"t":3595,"r":1.30,"v":0.4},{"s":3,"t":3695,"r":0.95,"v":-0.3},{"s":3,"t":3795,"r":1.70,"v":1.1},{"s":3,"t":3895,"r":0.50,"v":-1.1},{"s":3,"t":3990,"r":0.13,"v":-1.72},
{"s":3,"t":4380,"r":0.17,"v":-1.61},{"s":3,"t":4780,"r":0.09,"v":-1.84},{"s":3,"t":5180,"r":0.14,"v":-1.69},{"s":3,"t":5580,"r":0.07,"v":-1.90},{"s":3,"t":5980,"r":0.21,"v":-1.51},{"s":3,"t":6380,"r":0.11,"v":-1.77},{"s":3,"t":6520,"r":0.15,"v":-1.65},{"s":3,"t":6550,"r":1.50,"v":0.15},{"s":3,"t":6580,"r":2.00,"v":0.25},{"s":3,"t":6610,"r":0.90,"v":-0.40},{"s":3,"t":6650,"r":0.12,"v":-1.74},{"s":3,"t":6780,"r":0.18,"v":-1.58},{"s":3,"t":7180,"r":0.10,"v":-1.81},{"s":3,"t":7580,"r":0.25,"v":-1.44},{"s":3,"t":7980,"r":0.08,"v":-1.87},{"s":3,"t":8380,"r":0.15,"v":-1.66},{"s":3,"t":8780,"r":0.12,"v":-1.75},{"s":3,"t":9180,"r":0.19,"v":-1.56},{"s":3,"t":9580,"r":0.09,"v":-1.85},{"s":3,"t":9980,"r":0.14,"v":-1.70},{"s":3,"t":10380,"r":0.11,"v":-1.78},{"s":3,"t":10780,"r":0.17,"v":-1.61},{"s":3,"t":11020,"r":0.13,"v":-1.70},{"s":3,"t":11080,"r":1.25,"v":0.30},{"s":3,"t":11150,"r":0.95,"v":-0.10},{"s":3,"t":11220,"r":1.30,"v":0.35},{"s":3,"t":11290,"r":1.00,"v":0.00},{"s":3,"t":11360,"r":1.20,"v":0.20},{"s":3,"t":11420,"r":0.15,"v":-1.65},{"s":3,"t":11580,"r":0.08,"v":-1.88},{"s":3,"t":11980,"r":0.20,"v":-1.53},{"s":3,"t":12380,"r":0.10,"v":-1.80},{"s":3,"t":12600,"r":0.14,"v":-1.68},{"s":3,"t":12640,"r":1.25,"v":0.10},{"s":3,"t":12680,"r":0.12,"v":-1.73},{"s":3,"t":12780,"r":0.16,"v":-1.63},{"s":3,"t":13180,"r":0.09,"v":-1.84},{"s":3,"t":13580,"r":0.22,"v":-1.49},{"s":3,"t":13980,"r":0.11,"v":-1.77},{"s":3,"t":14380,"r":0.15,"v":-1.65},{"s":3,"t":14780,"r":0.07,"v":-1.89},{"s":3,"t":15180,"r":0.18,"v":-1.58},{"s":3,"t":15380,"r":0.35,"v":-1.20},
{"s":3,"t":15490,"r":1.30,"v":0.4},{"s":3,"t":15640,"r":0.85,"v":-0.5},{"s":3,"t":15790,"r":1.70,"v":1.0},{"s":3,"t":15940,"r":1.05,"v":-0.1},{"s":3,"t":16090,"r":0.60,"v":-1.0},{"s":3,"t":16240,"r":1.45,"v":0.6},{"s":3,"t":16390,"r":0.95,"v":-0.3},{"s":3,"t":16540,"r":1.80,"v":1.2},{"s":3,"t":16690,"r":1.15,"v":0.1},{"s":3,"t":16840,"r":0.70,"v":-0.8},{"s":3,"t":16990,"r":1.35,"v":0.5},{"s":3,"t":17140,"r":2.05,"v":1.4},{"s":3,"t":17290,"r":0.90,"v":-0.4},{"s":3,"t":17440,"r":1.25,"v":0.2},{"s":3,"t":17590,"r":0.50,"v":-1.1},{"s":3,"t":17740,"r":1.55,"v":0.8},{"s":3,"t":17890,"r":1.00,"v":-0.2},{"s":3,"t":18040,"r":1.40,"v":0.5},{"s":3,"t":18190,"r":0.75,"v":-0.7},{"s":3,"t":18340,"r":1.65,"v":1.0},{"s":3,"t":18490,"r":0.25,"v":-1.5},{"s":3,"t":18640,"r":1.20,"v":0.2},{"s":3,"t":18790,"r":0.85,"v":-0.5},{"s":3,"t":18940,"r":1.90,"v":1.3},{"s":3,"t":19090,"r":1.10,"v":0.0},{"s":3,"t":19240,"r":0.65,"v":-0.9},{"s":3,"t":19390,"r":1.50,"v":0.7},{"s":3,"t":19540,"r":1.00,"v":-0.2},{"s":3,"t":19690,"r":1.35,"v":0.4},{"s":3,"t":19840,"r":0.80,"v":-0.6},{"s":3,"t":19990,"r":1.75,"v":1.1},{"s":3,"t":20140,"r":0.95,"v":-0.3},{"s":3,"t":20290,"r":1.30,"v":0.3},{"s":3,"t":20440,"r":0.55,"v":-1.0},{"s":3,"t":20590,"r":1.60,"v":0.9},{"s":3,"t":20740,"r":0.10,"v":-1.7},{"s":3,"t":20890,"r":1.45,"v":0.6},{"s":3,"t":21040,"r":1.05,"v":-0.1},{"s":3,"t":21190,"r":1.85,"v":1.2},{"s":3,"t":21340,"r":0.90,"v":-0.4},{"s":3,"t":21490,"r":1.25,"v":0.3},{"s":3,"t":21640,"r":0.70,"v":-0.8},{"s":3,"t":21790,"r":1.55,"v":0.8},{"s":3,"t":21940,"r":1.00,"v":-0.2},{"s":3,"t":22090,"r":2.00,"v":1.4},{"s":3,"t":22240,"r":0.85,"v":-0.5},{"s":3,"t":22390,"r":1.40,"v":0.5},{"s":3,"t":22540,"r":0.95,"v":-0.3},{"s":3,"t":22690,"r":1.65,"v":1.0},{"s":3,"t":22840,"r":1.10,"v":0.1},{"s":3,"t":22950,"r":0.30,"v":-1.4},
{"s":3,"t":23180,"r":0.16,"v":-1.62},{"s":3,"t":23580,"r":0.13,"v":-1.70},{"s":3,"t":23620,"r":1.00,"v":0.20},{"s":3,"t":23680,"r":1.30,"v":1.05},{"s":3,"t":23740,"r":1.05,"v":0.40},{"s":3,"t":23790,"r":0.12,"v":-1.74},{"s":3,"t":23980,"r":0.09,"v":-1.85},{"s":3,"t":24380,"r":0.17,"v":-1.60},{"s":3,"t":24780,"r":0.11,"v":-1.78},{"s":3,"t":25180,"r":0.21,"v":-1.51},{"s":3,"t":25580,"r":0.08,"v":-1.87},{"s":3,"t":25980,"r":0.14,"v":-1.69},{"s":3,"t":26380,"r":0.18,"v":-1.57},{"s":3,"t":26780,"r":0.10,"v":-1.80},{"s":3,"t":26880,"r":0.14,"v":-1.68},{"s":3,"t":26920,"r":1.00,"v":0.00},{"s":3,"t":26960,"r":0.12,"v":-1.73},{"s":3,"t":27180,"r":0.15,"v":-1.65},{"s":3,"t":27580,"r":0.07,"v":-1.90},{"s":3,"t":27980,"r":0.19,"v":-1.55},{"s":3,"t":28380,"r":0.12,"v":-1.76},{"s":3,"t":28780,"r":0.24,"v":-1.45},{"s":3,"t":29180,"r":0.09,"v":-1.84},{"s":3,"t":29580,"r":0.15,"v":-1.66},{"s":3,"t":29980,"r":0.11,"v":-1.78},
{"s":3,"t":1380,"r":0.04,"v":-2.02},{"s":3,"t":1780,"r":0.24,"v":-1.42},{"s":3,"t":2200,"r":0.09,"v":-1.86},{"s":3,"t":2580,"r":0.33,"v":-1.28},{"s":3,"t":2930,"r":0.13,"v":-1.73},
{"s":3,"t":4580,"r":0.06,"v":-1.97},{"s":3,"t":4980,"r":0.21,"v":-1.50},{"s":3,"t":5380,"r":0.10,"v":-1.83},{"s":3,"t":5780,"r":0.30,"v":-1.32},{"s":3,"t":6180,"r":0.07,"v":-1.92},{"s":3,"t":6980,"r":0.17,"v":-1.63},{"s":3,"t":7380,"r":0.03,"v":-2.05},{"s":3,"t":7780,"r":0.26,"v":-1.40},{"s":3,"t":8180,"r":0.12,"v":-1.77},{"s":3,"t":8580,"r":0.38,"v":-1.22},{"s":3,"t":8980,"r":0.08,"v":-1.90},{"s":3,"t":9380,"r":0.05,"v":-1.95},{"s":3,"t":9780,"r":0.28,"v":-1.35},{"s":3,"t":10180,"r":0.11,"v":-1.80},{"s":3,"t":10580,"r":0.19,"v":-1.58},{"s":3,"t":10900,"r":0.04,"v":-2.02},{"s":3,"t":11500,"r":0.24,"v":-1.42},{"s":3,"t":11780,"r":0.09,"v":-1.86},{"s":3,"t":12180,"r":0.33,"v":-1.28},{"s":3,"t":12480,"r":0.13,"v":-1.73},{"s":3,"t":12980,"r":0.06,"v":-1.97},{"s":3,"t":13380,"r":0.21,"v":-1.50},{"s":3,"t":13780,"r":0.10,"v":-1.83},{"s":3,"t":14180,"r":0.30,"v":-1.32},{"s":3,"t":14580,"r":0.07,"v":-1.92},{"s":3,"t":14980,"r":0.17,"v":-1.63},{"s":3,"t":15280,"r":0.03,"v":-2.05},
{"s":3,"t":23380,"r":0.26,"v":-1.40},{"s":3,"t":24180,"r":0.12,"v":-1.77},{"s":3,"t":24580,"r":0.38,"v":-1.22},{"s":3,"t":24980,"r":0.08,"v":-1.90},{"s":3,"t":25380,"r":0.05,"v":-1.95},{"s":3,"t":25780,"r":0.28,"v":-1.35},{"s":3,"t":26180,"r":0.11,"v":-1.80},{"s":3,"t":26580,"r":0.19,"v":-1.58},{"s":3,"t":27380,"r":0.04,"v":-2.02},{"s":3,"t":27780,"r":0.24,"v":-1.42},{"s":3,"t":28180,"r":0.09,"v":-1.86},{"s":3,"t":28580,"r":0.33,"v":-1.28},{"s":3,"t":28980,"r":0.13,"v":-1.73},{"s":3,"t":29380,"r":0.06,"v":-1.97},{"s":3,"t":29780,"r":0.21,"v":-1.50},
{"s":3,"t":3190,"r":2.05,"v":1.5},{"s":3,"t":3260,"r":0.90,"v":-0.4},{"s":3,"t":3350,"r":1.60,"v":0.9},{"s":3,"t":3445,"r":0.45,"v":-1.2},{"s":3,"t":3545,"r":1.20,"v":0.2},{"s":3,"t":3645,"r":2.25,"v":1.7},{"s":3,"t":3745,"r":0.75,"v":-0.7},{"s":3,"t":3845,"r":1.45,"v":0.6},{"s":3,"t":3945,"r":0.60,"v":-0.9},
{"s":3,"t":15565,"r":2.05,"v":1.5},{"s":3,"t":15715,"r":0.90,"v":-0.4},{"s":3,"t":15865,"r":1.60,"v":0.9},{"s":3,"t":16015,"r":0.45,"v":-1.2},{"s":3,"t":16165,"r":1.20,"v":0.2},{"s":3,"t":16315,"r":2.25,"v":1.7},{"s":3,"t":16465,"r":0.75,"v":-0.7},{"s":3,"t":16615,"r":1.45,"v":0.6},{"s":3,"t":16765,"r":0.25,"v":-1.6},{"s":3,"t":16915,"r":1.70,"v":1.1},{"s":3,"t":17065,"r":1.00,"v":-0.1},{"s":3,"t":17215,"r":0.60,"v":-0.9},{"s":3,"t":17365,"r":1.95,"v":1.3},{"s":3,"t":17515,"r":0.85,"v":-0.5},{"s":3,"t":17665,"r":1.35,"v":0.5},{"s":3,"t":17815,"r":0.40,"v":-1.3},{"s":3,"t":17965,"r":1.75,"v":1.0},{"s":3,"t":18115,"r":1.10,"v":0.0},{"s":3,"t":18265,"r":0.50,"v":-1.0},{"s":3,"t":18415,"r":2.40,"v":1.8},{"s":3,"t":18565,"r":0.95,"v":-0.3},{"s":3,"t":18715,"r":1.85,"v":1.2},{"s":3,"t":18865,"r":0.55,"v":-1.1},{"s":3,"t":19015,"r":1.30,"v":0.4},{"s":3,"t":19165,"r":0.35,"v":-1.4},{"s":3,"t":19315,"r":2.05,"v":1.5},{"s":3,"t":19465,"r":0.90,"v":-0.4},{"s":3,"t":19615,"r":1.60,"v":0.9},{"s":3,"t":19765,"r":0.45,"v":-1.2},{"s":3,"t":19915,"r":1.20,"v":0.2},{"s":3,"t":20065,"r":2.25,"v":1.7},{"s":3,"t":20215,"r":0.75,"v":-0.7},{"s":3,"t":20365,"r":1.45,"v":0.6},{"s":3,"t":20515,"r":0.25,"v":-1.6},{"s":3,"t":20665,"r":1.70,"v":1.1},{"s":3,"t":20815,"r":1.00,"v":-0.1},{"s":3,"t":20965,"r":0.60,"v":-0.9},{"s":3,"t":21115,"r":1.95,"v":1.3},{"s":3,"t":21265,"r":0.85,"v":-0.5},{"s":3,"t":21415,"r":1.35,"v":0.5},{"s":3,"t":21565,"r":0.40,"v":-1.3},{"s":3,"t":21715,"r":1.75,"v":1.0},{"s":3,"t":21865,"r":1.10,"v":0.0},{"s":3,"t":22015,"r":0.50,"v":-1.0},{"s":3,"t":22165,"r":2.40,"v":1.8},{"s":3,"t":22315,"r":0.95,"v":-0.3},{"s":3,"t":22465,"r":1.85,"v":1.2},{"s":3,"t":22615,"r":0.55,"v":-1.1},{"s":3,"t":22765,"r":1.30,"v":0.4},

{"s":4,"t":1240,"r":0.16,"v":-1.62},{"s":4,"t":1640,"r":0.10,"v":-1.80},{"s":4,"t":2040,"r":0.21,"v":-1.52},{"s":4,"t":2440,"r":0.09,"v":-1.85},{"s":4,"t":2840,"r":0.14,"v":-1.68},{"s":4,"t":3060,"r":0.25,"v":-1.45},
{"s":4,"t":3160,"r":0.55,"v":-1.0},{"s":4,"t":3260,"r":1.25,"v":0.4},{"s":4,"t":3360,"r":0.80,"v":-0.6},{"s":4,"t":3460,"r":1.60,"v":1.0},{"s":4,"t":3560,"r":1.05,"v":-0.1},{"s":4,"t":3660,"r":1.40,"v":0.6},{"s":4,"t":3760,"r":0.85,"v":-0.4},{"s":4,"t":3860,"r":1.30,"v":0.3},{"s":4,"t":3960,"r":1.00,"v":-0.1},{"s":4,"t":4060,"r":1.20,"v":0.1},{"s":4,"t":4120,"r":0.15,"v":-1.65},
{"s":4,"t":4440,"r":0.11,"v":-1.78},{"s":4,"t":4840,"r":0.18,"v":-1.58},{"s":4,"t":5240,"r":0.08,"v":-1.87},{"s":4,"t":5640,"r":0.14,"v":-1.69},{"s":4,"t":6040,"r":0.10,"v":-1.80},{"s":4,"t":6440,"r":0.23,"v":-1.47},{"s":4,"t":6840,"r":0.12,"v":-1.75},{"s":4,"t":7240,"r":0.16,"v":-1.63},{"s":4,"t":7640,"r":0.09,"v":-1.85},{"s":4,"t":8040,"r":0.13,"v":-1.71},{"s":4,"t":8440,"r":0.20,"v":-1.54},{"s":4,"t":8840,"r":0.07,"v":-1.90},{"s":4,"t":9240,"r":0.15,"v":-1.66},{"s":4,"t":9420,"r":0.12,"v":-1.75},{"s":4,"t":9470,"r":1.10,"v":-0.30},{"s":4,"t":9530,"r":0.95,"v":0.00},{"s":4,"t":9590,"r":1.30,"v":0.20},{"s":4,"t":9650,"r":1.05,"v":-0.20},{"s":4,"t":9710,"r":1.53,"v":0.30},{"s":4,"t":9760,"r":0.14,"v":-1.70},{"s":4,"t":10040,"r":0.11,"v":-1.78},{"s":4,"t":10440,"r":0.19,"v":-1.56},{"s":4,"t":10840,"r":0.09,"v":-1.84},{"s":4,"t":11240,"r":0.14,"v":-1.68},{"s":4,"t":11640,"r":0.22,"v":-1.50},{"s":4,"t":12040,"r":0.10,"v":-1.81},{"s":4,"t":12440,"r":0.16,"v":-1.62},{"s":4,"t":12840,"r":0.08,"v":-1.88},{"s":4,"t":13240,"r":0.13,"v":-1.71},{"s":4,"t":13640,"r":0.18,"v":-1.58},{"s":4,"t":14040,"r":0.11,"v":-1.78},{"s":4,"t":14440,"r":0.24,"v":-1.46},{"s":4,"t":14840,"r":0.09,"v":-1.85},{"s":4,"t":15240,"r":0.15,"v":-1.66},
{"s":4,"t":15450,"r":1.00,"v":0.1},{"s":4,"t":15520,"r":0.75,"v":-0.6},{"s":4,"t":15670,"r":1.45,"v":0.7},{"s":4,"t":15820,"r":1.00,"v":-0.1},{"s":4,"t":15970,"r":1.85,"v":1.3},{"s":4,"t":16120,"r":0.80,"v":-0.6},{"s":4,"t":16270,"r":1.30,"v":0.3},{"s":4,"t":16420,"r":0.55,"v":-1.1},{"s":4,"t":16570,"r":1.60,"v":0.9},{"s":4,"t":16720,"r":1.05,"v":-0.1},{"s":4,"t":16870,"r":1.40,"v":0.5},{"s":4,"t":17020,"r":0.70,"v":-0.8},{"s":4,"t":17170,"r":1.75,"v":1.1},{"s":4,"t":17320,"r":0.95,"v":-0.3},{"s":4,"t":17470,"r":1.25,"v":0.3},{"s":4,"t":17620,"r":0.20,"v":-1.5},{"s":4,"t":17770,"r":1.50,"v":0.7},{"s":4,"t":17920,"r":1.00,"v":-0.2},{"s":4,"t":18070,"r":1.65,"v":1.0},{"s":4,"t":18220,"r":0.85,"v":-0.5},{"s":4,"t":18370,"r":2.70,"v":1.8},{"s":4,"t":18520,"r":0.60,"v":-0.9},{"s":4,"t":18670,"r":1.90,"v":1.3},{"s":4,"t":18820,"r":1.10,"v":0.0},{"s":4,"t":18970,"r":0.75,"v":-0.7},{"s":4,"t":19120,"r":1.45,"v":0.6},{"s":4,"t":19270,"r":0.95,"v":-0.3},{"s":4,"t":19420,"r":1.70,"v":1.0},{"s":4,"t":19570,"r":0.10,"v":-1.6},{"s":4,"t":19720,"r":1.30,"v":0.3},{"s":4,"t":19870,"r":0.85,"v":-0.5},{"s":4,"t":20020,"r":1.55,"v":0.8},{"s":4,"t":20170,"r":1.05,"v":-0.1},{"s":4,"t":20320,"r":1.40,"v":0.5},{"s":4,"t":20470,"r":0.70,"v":-0.8},{"s":4,"t":20620,"r":1.35,"v":0.4},{"s":4,"t":20770,"r":1.00,"v":-0.2},{"s":4,"t":20920,"r":1.80,"v":1.2},{"s":4,"t":21070,"r":0.90,"v":-0.4},{"s":4,"t":21220,"r":1.25,"v":0.2},{"s":4,"t":21370,"r":0.50,"v":-1.1},{"s":4,"t":21520,"r":1.60,"v":0.9},{"s":4,"t":21670,"r":1.15,"v":0.0},{"s":4,"t":21820,"r":2.20,"v":1.5},{"s":4,"t":21970,"r":0.80,"v":-0.6},{"s":4,"t":22120,"r":1.35,"v":0.4},{"s":4,"t":22270,"r":0.95,"v":-0.3},{"s":4,"t":22420,"r":1.50,"v":0.7},{"s":4,"t":22570,"r":0.15,"v":-1.6},{"s":4,"t":22720,"r":1.20,"v":0.2},{"s":4,"t":22870,"r":0.80,"v":-0.6},{"s":4,"t":22980,"r":0.20,"v":-1.5},
{"s":4,"t":23240,"r":0.13,"v":-1.71},{"s":4,"t":23640,"r":0.09,"v":-1.85},{"s":4,"t":24040,"r":0.17,"v":-1.60},{"s":4,"t":24440,"r":0.11,"v":-1.78},{"s":4,"t":24840,"r":0.21,"v":-1.51},{"s":4,"t":25240,"r":0.08,"v":-1.87},{"s":4,"t":25640,"r":0.15,"v":-1.66},{"s":4,"t":26040,"r":0.12,"v":-1.75},{"s":4,"t":26440,"r":0.19,"v":-1.56},{"s":4,"t":26840,"r":0.09,"v":-1.84},{"s":4,"t":27240,"r":0.14,"v":-1.69},{"s":4,"t":27540,"r":0.12,"v":-1.74},{"s":4,"t":27580,"r":1.20,"v":0.30},{"s":4,"t":27640,"r":0.95,"v":0.00},{"s":4,"t":27700,"r":1.68,"v":0.80},{"s":4,"t":27760,"r":1.05,"v":0.20},{"s":4,"t":27820,"r":1.40,"v":0.60},{"s":4,"t":27880,"r":0.90,"v":0.00},{"s":4,"t":27940,"r":1.25,"v":0.45},{"s":4,"t":27990,"r":0.15,"v":-1.65},{"s":4,"t":28240,"r":0.10,"v":-1.80},{"s":4,"t":28640,"r":0.18,"v":-1.58},{"s":4,"t":29040,"r":0.08,"v":-1.88},{"s":4,"t":29440,"r":0.14,"v":-1.68},{"s":4,"t":29840,"r":0.11,"v":-1.77},
{"s":4,"t":1440,"r":0.10,"v":-1.83},{"s":4,"t":1840,"r":0.30,"v":-1.32},{"s":4,"t":2240,"r":0.07,"v":-1.92},{"s":4,"t":2640,"r":0.17,"v":-1.63},{"s":4,"t":2960,"r":0.03,"v":-2.05},
{"s":4,"t":4640,"r":0.26,"v":-1.40},{"s":4,"t":5040,"r":0.12,"v":-1.77},{"s":4,"t":5440,"r":0.38,"v":-1.22},{"s":4,"t":5840,"r":0.08,"v":-1.90},{"s":4,"t":6240,"r":0.05,"v":-1.95},{"s":4,"t":6640,"r":0.28,"v":-1.35},{"s":4,"t":7040,"r":0.11,"v":-1.80},{"s":4,"t":7440,"r":0.19,"v":-1.58},{"s":4,"t":7840,"r":0.04,"v":-2.02},{"s":4,"t":8240,"r":0.24,"v":-1.42},{"s":4,"t":8640,"r":0.09,"v":-1.86},{"s":4,"t":9040,"r":0.33,"v":-1.28},{"s":4,"t":9340,"r":0.13,"v":-1.73},{"s":4,"t":9900,"r":0.06,"v":-1.97},{"s":4,"t":10240,"r":0.21,"v":-1.50},{"s":4,"t":10640,"r":0.10,"v":-1.83},{"s":4,"t":11040,"r":0.30,"v":-1.32},{"s":4,"t":11440,"r":0.07,"v":-1.92},{"s":4,"t":11840,"r":0.17,"v":-1.63},{"s":4,"t":12240,"r":0.03,"v":-2.05},{"s":4,"t":12640,"r":0.26,"v":-1.40},{"s":4,"t":13040,"r":0.12,"v":-1.77},{"s":4,"t":13440,"r":0.38,"v":-1.22},{"s":4,"t":13840,"r":0.08,"v":-1.90},{"s":4,"t":14240,"r":0.05,"v":-1.95},{"s":4,"t":14640,"r":0.28,"v":-1.35},{"s":4,"t":15040,"r":0.11,"v":-1.80},{"s":4,"t":15340,"r":0.19,"v":-1.58},
{"s":4,"t":23440,"r":0.04,"v":-2.02},{"s":4,"t":23840,"r":0.24,"v":-1.42},{"s":4,"t":24240,"r":0.09,"v":-1.86},{"s":4,"t":24640,"r":0.33,"v":-1.28},{"s":4,"t":25040,"r":0.13,"v":-1.73},{"s":4,"t":25440,"r":0.06,"v":-1.97},{"s":4,"t":25840,"r":0.21,"v":-1.50},{"s":4,"t":26240,"r":0.10,"v":-1.83},{"s":4,"t":26640,"r":0.30,"v":-1.32},{"s":4,"t":27040,"r":0.07,"v":-1.92},{"s":4,"t":27400,"r":0.17,"v":-1.63},{"s":4,"t":28100,"r":0.03,"v":-2.05},{"s":4,"t":28440,"r":0.26,"v":-1.40},{"s":4,"t":28840,"r":0.12,"v":-1.77},{"s":4,"t":29240,"r":0.38,"v":-1.22},{"s":4,"t":29640,"r":0.08,"v":-1.90},
{"s":4,"t":3210,"r":0.25,"v":-1.6},{"s":4,"t":3310,"r":1.70,"v":1.1},{"s":4,"t":3410,"r":1.00,"v":-0.1},{"s":4,"t":3510,"r":0.60,"v":-0.9},{"s":4,"t":3610,"r":1.95,"v":1.3},{"s":4,"t":3710,"r":0.85,"v":-0.5},{"s":4,"t":3810,"r":1.35,"v":0.5},{"s":4,"t":3910,"r":1.75,"v":1.0},{"s":4,"t":4010,"r":1.10,"v":0.0},
{"s":4,"t":15595,"r":0.25,"v":-1.6},{"s":4,"t":15745,"r":1.70,"v":1.1},{"s":4,"t":15895,"r":1.00,"v":-0.1},{"s":4,"t":16045,"r":0.60,"v":-0.9},{"s":4,"t":16195,"r":1.95,"v":1.3},{"s":4,"t":16345,"r":0.85,"v":-0.5},{"s":4,"t":16495,"r":1.35,"v":0.5},{"s":4,"t":16645,"r":0.40,"v":-1.3},{"s":4,"t":16795,"r":1.75,"v":1.0},{"s":4,"t":16945,"r":1.10,"v":0.0},{"s":4,"t":17095,"r":0.50,"v":-1.0},{"s":4,"t":17245,"r":2.40,"v":1.8},{"s":4,"t":17395,"r":0.95,"v":-0.3},{"s":4,"t":17545,"r":1.85,"v":1.2},{"s":4,"t":17695,"r":0.55,"v":-1.1},{"s":4,"t":17845,"r":1.30,"v":0.4},{"s":4,"t":17995,"r":0.35,"v":-1.4},{"s":4,"t":18145,"r":2.05,"v":1.5},{"s":4,"t":18295,"r":0.90,"v":-0.4},{"s":4,"t":18445,"r":1.60,"v":0.9},{"s":4,"t":18595,"r":0.45,"v":-1.2},{"s":4,"t":18745,"r":1.20,"v":0.2},{"s":4,"t":18895,"r":2.25,"v":1.7},{"s":4,"t":19045,"r":0.75,"v":-0.7},{"s":4,"t":19195,"r":1.45,"v":0.6},{"s":4,"t":19345,"r":0.25,"v":-1.6},{"s":4,"t":19495,"r":1.70,"v":1.1},{"s":4,"t":19645,"r":1.00,"v":-0.1},{"s":4,"t":19795,"r":0.60,"v":-0.9},{"s":4,"t":19945,"r":1.95,"v":1.3},{"s":4,"t":20095,"r":0.85,"v":-0.5},{"s":4,"t":20245,"r":1.35,"v":0.5},{"s":4,"t":20395,"r":0.40,"v":-1.3},{"s":4,"t":20545,"r":1.75,"v":1.0},{"s":4,"t":20695,"r":1.10,"v":0.0},{"s":4,"t":20845,"r":0.50,"v":-1.0},{"s":4,"t":20995,"r":2.40,"v":1.8},{"s":4,"t":21145,"r":0.95,"v":-0.3},{"s":4,"t":21295,"r":1.85,"v":1.2},{"s":4,"t":21445,"r":0.55,"v":-1.1},{"s":4,"t":21595,"r":1.30,"v":0.4},{"s":4,"t":21745,"r":0.35,"v":-1.4},{"s":4,"t":21895,"r":2.05,"v":1.5},{"s":4,"t":22045,"r":0.90,"v":-0.4},{"s":4,"t":22195,"r":1.60,"v":0.9},{"s":4,"t":22345,"r":0.45,"v":-1.2},{"s":4,"t":22495,"r":1.20,"v":0.2},{"s":4,"t":22645,"r":2.25,"v":1.7},{"s":4,"t":22795,"r":0.75,"v":-0.7},

{"s":5,"t":1300,"r":0.11,"v":-1.77},{"s":5,"t":1700,"r":0.18,"v":-1.57},{"s":5,"t":2100,"r":0.08,"v":-1.87},{"s":5,"t":2500,"r":0.14,"v":-1.69},{"s":5,"t":2900,"r":0.12,"v":-1.74},
{"s":5,"t":3175,"r":0.90,"v":-0.3},{"s":5,"t":3275,"r":1.40,"v":0.6},{"s":5,"t":3375,"r":0.65,"v":-0.8},{"s":5,"t":3475,"r":1.75,"v":1.2},{"s":5,"t":3575,"r":0.95,"v":-0.3},{"s":5,"t":3675,"r":1.30,"v":0.4},{"s":5,"t":3775,"r":0.75,"v":-0.7},{"s":5,"t":3875,"r":1.15,"v":0.1},{"s":5,"t":3975,"r":0.30,"v":-1.4},{"s":5,"t":4075,"r":0.11,"v":-1.78},
{"s":5,"t":4500,"r":0.15,"v":-1.65},{"s":5,"t":4900,"r":0.09,"v":-1.84},{"s":5,"t":5300,"r":0.20,"v":-1.54},{"s":5,"t":5700,"r":0.12,"v":-1.75},{"s":5,"t":6100,"r":0.16,"v":-1.62},{"s":5,"t":6500,"r":0.08,"v":-1.88},{"s":5,"t":6900,"r":0.13,"v":-1.71},{"s":5,"t":7300,"r":0.22,"v":-1.49},{"s":5,"t":7700,"r":0.10,"v":-1.80},{"s":5,"t":8100,"r":0.15,"v":-1.65},{"s":5,"t":8500,"r":0.09,"v":-1.85},{"s":5,"t":8900,"r":0.18,"v":-1.58},{"s":5,"t":9300,"r":0.11,"v":-1.77},{"s":5,"t":9700,"r":0.14,"v":-1.68},{"s":5,"t":10100,"r":0.07,"v":-1.90},{"s":5,"t":10500,"r":0.21,"v":-1.52},{"s":5,"t":10900,"r":0.12,"v":-1.75},{"s":5,"t":11300,"r":0.16,"v":-1.63},{"s":5,"t":11700,"r":0.09,"v":-1.84},{"s":5,"t":12100,"r":0.13,"v":-1.71},{"s":5,"t":12500,"r":0.25,"v":-1.44},{"s":5,"t":12900,"r":0.10,"v":-1.81},{"s":5,"t":13300,"r":0.15,"v":-1.66},{"s":5,"t":13700,"r":0.08,"v":-1.87},{"s":5,"t":14100,"r":0.19,"v":-1.56},{"s":5,"t":14500,"r":0.11,"v":-1.78},{"s":5,"t":14900,"r":0.14,"v":-1.69},{"s":5,"t":15300,"r":0.12,"v":-1.74},
{"s":5,"t":15440,"r":0.80,"v":-0.5},{"s":5,"t":15540,"r":1.50,"v":0.7},{"s":5,"t":15690,"r":0.95,"v":-0.3},{"s":5,"t":15840,"r":1.25,"v":0.3},{"s":5,"t":15990,"r":0.65,"v":-0.9},{"s":5,"t":16140,"r":1.70,"v":1.1},{"s":5,"t":16290,"r":1.00,"v":-0.1},{"s":5,"t":16440,"r":1.45,"v":0.6},{"s":5,"t":16590,"r":0.80,"v":-0.6},{"s":5,"t":16740,"r":1.95,"v":1.3},{"s":5,"t":16890,"r":1.10,"v":0.0},{"s":5,"t":17040,"r":0.60,"v":-1.0},{"s":5,"t":17190,"r":1.35,"v":0.4},{"s":5,"t":17340,"r":0.90,"v":-0.4},{"s":5,"t":17490,"r":1.60,"v":0.9},{"s":5,"t":17640,"r":1.05,"v":-0.1},{"s":5,"t":17790,"r":0.45,"v":-1.2},{"s":5,"t":17940,"r":1.40,"v":0.5},{"s":5,"t":18090,"r":1.00,"v":-0.2},{"s":5,"t":18240,"r":1.80,"v":1.2},{"s":5,"t":18390,"r":0.75,"v":-0.7},{"s":5,"t":18540,"r":1.25,"v":0.2},{"s":5,"t":18690,"r":0.95,"v":-0.3},{"s":5,"t":18840,"r":1.55,"v":0.8},{"s":5,"t":18990,"r":1.15,"v":0.0},{"s":5,"t":19140,"r":0.70,"v":-0.8},{"s":5,"t":19290,"r":1.65,"v":1.0},{"s":5,"t":19440,"r":1.00,"v":-0.2},{"s":5,"t":19590,"r":1.35,"v":0.4},{"s":5,"t":19740,"r":0.55,"v":-1.1},{"s":5,"t":19890,"r":1.90,"v":1.3},{"s":5,"t":20040,"r":0.85,"v":-0.5},{"s":5,"t":20190,"r":1.30,"v":0.3},{"s":5,"t":20340,"r":1.00,"v":-0.2},{"s":5,"t":20490,"r":1.75,"v":1.1},{"s":5,"t":20640,"r":0.80,"v":-0.6},{"s":5,"t":20790,"r":1.40,"v":0.5},{"s":5,"t":20940,"r":0.35,"v":-1.3},{"s":5,"t":21090,"r":1.55,"v":0.8},{"s":5,"t":21240,"r":1.10,"v":0.0},{"s":5,"t":21390,"r":2.00,"v":1.4},{"s":5,"t":21540,"r":0.90,"v":-0.4},{"s":5,"t":21690,"r":1.25,"v":0.2},{"s":5,"t":21840,"r":0.65,"v":-0.9},{"s":5,"t":21990,"r":1.60,"v":0.9},{"s":5,"t":22140,"r":1.05,"v":-0.1},{"s":5,"t":22290,"r":1.45,"v":0.6},{"s":5,"t":22440,"r":0.80,"v":-0.6},{"s":5,"t":22590,"r":1.70,"v":1.0},{"s":5,"t":22740,"r":1.00,"v":-0.1},{"s":5,"t":22890,"r":0.45,"v":-1.1},
{"s":5,"t":23100,"r":0.14,"v":-1.68},{"s":5,"t":23280,"r":0.95,"v":-0.10},{"s":5,"t":23340,"r":1.20,"v":0.35},{"s":5,"t":23400,"r":0.85,"v":-0.20},{"s":5,"t":23460,"r":0.13,"v":-1.70},{"s":5,"t":23700,"r":0.18,"v":-1.58},{"s":5,"t":24100,"r":0.10,"v":-1.80},{"s":5,"t":24500,"r":0.15,"v":-1.66},{"s":5,"t":24900,"r":0.08,"v":-1.87},{"s":5,"t":25300,"r":0.20,"v":-1.53},{"s":5,"t":25700,"r":0.12,"v":-1.75},{"s":5,"t":26100,"r":0.16,"v":-1.63},{"s":5,"t":26500,"r":0.09,"v":-1.84},{"s":5,"t":26900,"r":0.13,"v":-1.71},{"s":5,"t":27300,"r":0.22,"v":-1.49},{"s":5,"t":27700,"r":0.10,"v":-1.81},{"s":5,"t":28100,"r":0.15,"v":-1.65},{"s":5,"t":28500,"r":0.11,"v":-1.78},{"s":5,"t":28900,"r":0.18,"v":-1.57},{"s":5,"t":29300,"r":0.08,"v":-1.88},{"s":5,"t":29700,"r":0.14,"v":-1.69},{"s":5,"t":30000,"r":0.12,"v":-1.74},
{"s":5,"t":1100,"r":0.12,"v":-1.77},{"s":5,"t":1500,"r":0.38,"v":-1.22},{"s":5,"t":1900,"r":0.08,"v":-1.90},{"s":5,"t":2300,"r":0.05,"v":-1.95},{"s":5,"t":2700,"r":0.28,"v":-1.35},{"s":5,"t":3050,"r":0.11,"v":-1.80},
{"s":5,"t":4300,"r":0.19,"v":-1.58},{"s":5,"t":4700,"r":0.04,"v":-2.02},{"s":5,"t":5100,"r":0.24,"v":-1.42},{"s":5,"t":5500,"r":0.09,"v":-1.86},{"s":5,"t":5900,"r":0.33,"v":-1.28},{"s":5,"t":6300,"r":0.13,"v":-1.73},{"s":5,"t":6700,"r":0.06,"v":-1.97},{"s":5,"t":7100,"r":0.21,"v":-1.50},{"s":5,"t":7500,"r":0.10,"v":-1.83},{"s":5,"t":7900,"r":0.30,"v":-1.32},{"s":5,"t":8300,"r":0.07,"v":-1.92},{"s":5,"t":8700,"r":0.17,"v":-1.63},{"s":5,"t":9100,"r":0.03,"v":-2.05},{"s":5,"t":9500,"r":0.26,"v":-1.40},{"s":5,"t":9900,"r":0.12,"v":-1.77},{"s":5,"t":10300,"r":0.38,"v":-1.22},{"s":5,"t":10700,"r":0.08,"v":-1.90},{"s":5,"t":11100,"r":0.05,"v":-1.95},{"s":5,"t":11500,"r":0.28,"v":-1.35},{"s":5,"t":11900,"r":0.11,"v":-1.80},{"s":5,"t":12300,"r":0.19,"v":-1.58},{"s":5,"t":12700,"r":0.04,"v":-2.02},{"s":5,"t":13100,"r":0.24,"v":-1.42},{"s":5,"t":13500,"r":0.09,"v":-1.86},{"s":5,"t":13900,"r":0.33,"v":-1.28},{"s":5,"t":14300,"r":0.13,"v":-1.73},{"s":5,"t":14700,"r":0.06,"v":-1.97},{"s":5,"t":15100,"r":0.21,"v":-1.50},
{"s":5,"t":23550,"r":0.10,"v":-1.83},{"s":5,"t":23900,"r":0.30,"v":-1.32},{"s":5,"t":24300,"r":0.07,"v":-1.92},{"s":5,"t":24700,"r":0.17,"v":-1.63},{"s":5,"t":25100,"r":0.03,"v":-2.05},{"s":5,"t":25500,"r":0.26,"v":-1.40},{"s":5,"t":25900,"r":0.12,"v":-1.77},{"s":5,"t":26300,"r":0.38,"v":-1.22},{"s":5,"t":26700,"r":0.08,"v":-1.90},{"s":5,"t":27100,"r":0.05,"v":-1.95},{"s":5,"t":27500,"r":0.28,"v":-1.35},{"s":5,"t":27900,"r":0.11,"v":-1.80},{"s":5,"t":28300,"r":0.19,"v":-1.58},{"s":5,"t":28700,"r":0.04,"v":-2.02},{"s":5,"t":29100,"r":0.24,"v":-1.42},{"s":5,"t":29500,"r":0.09,"v":-1.86},{"s":5,"t":29850,"r":0.33,"v":-1.28},
{"s":5,"t":3225,"r":1.75,"v":1.0},{"s":5,"t":3325,"r":1.10,"v":0.0},{"s":5,"t":3425,"r":0.50,"v":-1.0},{"s":5,"t":3525,"r":0.95,"v":-0.3},{"s":5,"t":3625,"r":1.85,"v":1.2},{"s":5,"t":3725,"r":0.55,"v":-1.1},{"s":5,"t":3825,"r":1.30,"v":0.4},{"s":5,"t":3925,"r":0.90,"v":-0.4},
{"s":5,"t":15615,"r":1.75,"v":1.0},{"s":5,"t":15765,"r":1.10,"v":0.0},{"s":5,"t":15915,"r":0.50,"v":-1.0},{"s":5,"t":16065,"r":2.40,"v":1.8},{"s":5,"t":16215,"r":0.95,"v":-0.3},{"s":5,"t":16365,"r":1.85,"v":1.2},{"s":5,"t":16515,"r":0.55,"v":-1.1},{"s":5,"t":16665,"r":1.30,"v":0.4},{"s":5,"t":16815,"r":0.35,"v":-1.4},{"s":5,"t":16965,"r":2.05,"v":1.5},{"s":5,"t":17115,"r":0.90,"v":-0.4},{"s":5,"t":17265,"r":1.60,"v":0.9},{"s":5,"t":17415,"r":0.45,"v":-1.2},{"s":5,"t":17565,"r":1.20,"v":0.2},{"s":5,"t":17715,"r":2.25,"v":1.7},{"s":5,"t":17865,"r":0.75,"v":-0.7},{"s":5,"t":18015,"r":1.45,"v":0.6},{"s":5,"t":18165,"r":0.25,"v":-1.6},{"s":5,"t":18315,"r":1.70,"v":1.1},{"s":5,"t":18465,"r":1.00,"v":-0.1},{"s":5,"t":18615,"r":0.60,"v":-0.9},{"s":5,"t":18765,"r":1.95,"v":1.3},{"s":5,"t":18915,"r":0.85,"v":-0.5},{"s":5,"t":19065,"r":1.35,"v":0.5},{"s":5,"t":19215,"r":0.40,"v":-1.3},{"s":5,"t":19365,"r":1.75,"v":1.0},{"s":5,"t":19515,"r":1.10,"v":0.0},{"s":5,"t":19665,"r":0.50,"v":-1.0},{"s":5,"t":19815,"r":2.40,"v":1.8},{"s":5,"t":19965,"r":0.95,"v":-0.3},{"s":5,"t":20115,"r":1.85,"v":1.2},{"s":5,"t":20265,"r":0.55,"v":-1.1},{"s":5,"t":20415,"r":1.30,"v":0.4},{"s":5,"t":20565,"r":0.35,"v":-1.4},{"s":5,"t":20715,"r":2.05,"v":1.5},{"s":5,"t":20865,"r":0.90,"v":-0.4},{"s":5,"t":21015,"r":1.60,"v":0.9},{"s":5,"t":21165,"r":0.45,"v":-1.2},{"s":5,"t":21315,"r":1.20,"v":0.2},{"s":5,"t":21465,"r":2.25,"v":1.7},{"s":5,"t":21615,"r":0.75,"v":-0.7},{"s":5,"t":21765,"r":1.45,"v":0.6},{"s":5,"t":21915,"r":0.25,"v":-1.6},{"s":5,"t":22065,"r":1.70,"v":1.1},{"s":5,"t":22215,"r":1.00,"v":-0.1},{"s":5,"t":22365,"r":0.60,"v":-0.9},{"s":5,"t":22515,"r":1.95,"v":1.3},{"s":5,"t":22665,"r":0.85,"v":-0.5},{"s":5,"t":22815,"r":1.35,"v":0.5}
],
"bold": [
{"s":0,"t":1200,"b":0.0176},{"s":0,"t":2000,"b":0.040},{"s":0,"t":3000,"b":0.0545},{"s":0,"t":4000,"b":0.0535},{"s":0,"t":5000,"b":0.0555},{"s":0,"t":6000,"b":0.0565},{"s":0,"t":7000,"b":0.050},{"s":0,"t":8000,"b":0.039},{"s":0,"t":9000,"b":0.029},{"s":0,"t":10000,"b":0.021},{"s":0,"t":11000,"b":0.016},{"s":0,"t":12000,"b":0.014},{"s":0,"t":13000,"b":0.016},{"s":0,"t":14000,"b":0.022},{"s":0,"t":15000,"b":0.027},{"s":0,"t":16000,"b":0.029},{"s":0,"t":16500,"b":0.030},{"s":0,"t":17000,"b":0.035},{"s":0,"t":18000,"b":0.053},{"s":0,"t":19000,"b":0.076},{"s":0,"t":20000,"b":0.091},{"s":0,"t":21000,"b":0.096},{"s":0,"t":22000,"b":0.0975},{"s":0,"t":23000,"b":0.0965},{"s":0,"t":24000,"b":0.091},{"s":0,"t":25000,"b":0.074},{"s":0,"t":26000,"b":0.052},{"s":0,"t":27000,"b":0.031},{"s":0,"t":28000,"b":0.016},{"s":0,"t":29000,"b":0.0075},{"s":0,"t":29650,"b":0.003},
{"s":1,"t":1200,"b":0.0176},{"s":1,"t":2000,"b":0.041},{"s":1,"t":3000,"b":0.0565},{"s":1,"t":4000,"b":0.056},{"s":1,"t":5000,"b":0.059},{"s":1,"t":6000,"b":0.062},{"s":1,"t":7000,"b":0.056},{"s":1,"t":8000,"b":0.045},{"s":1,"t":9000,"b":0.034},{"s":1,"t":10000,"b":0.024},{"s":1,"t":11000,"b":0.017},{"s":1,"t":12000,"b":0.0125},{"s":1,"t":13000,"b":0.0135},{"s":1,"t":14000,"b":0.016},{"s":1,"t":15000,"b":0.019},{"s":1,"t":16000,"b":0.021},{"s":1,"t":16500,"b":0.023},{"s":1,"t":17000,"b":0.034},{"s":1,"t":18000,"b":0.058},{"s":1,"t":19000,"b":0.080},{"s":1,"t":20000,"b":0.093},{"s":1,"t":21000,"b":0.097},{"s":1,"t":22000,"b":0.0975},{"s":1,"t":23000,"b":0.097},{"s":1,"t":24000,"b":0.094},{"s":1,"t":25000,"b":0.081},{"s":1,"t":26000,"b":0.062},{"s":1,"t":27000,"b":0.041},{"s":1,"t":28000,"b":0.022},{"s":1,"t":29000,"b":0.010},{"s":1,"t":29650,"b":0.0045},
{"s":2,"t":1200,"b":0.0176},{"s":2,"t":2000,"b":0.040},{"s":2,"t":3000,"b":0.0545},{"s":2,"t":4000,"b":0.054},{"s":2,"t":5000,"b":0.057},{"s":2,"t":6000,"b":0.059},{"s":2,"t":7000,"b":0.053},{"s":2,"t":8000,"b":0.042},{"s":2,"t":9000,"b":0.031},{"s":2,"t":10000,"b":0.022},{"s":2,"t":11000,"b":0.016},{"s":2,"t":12000,"b":0.014},{"s":2,"t":13000,"b":0.015},{"s":2,"t":14000,"b":0.018},{"s":2,"t":15000,"b":0.022},{"s":2,"t":16000,"b":0.024},{"s":2,"t":16500,"b":0.025},{"s":2,"t":17000,"b":0.033},{"s":2,"t":18000,"b":0.054},{"s":2,"t":19000,"b":0.077},{"s":2,"t":20000,"b":0.091},{"s":2,"t":21000,"b":0.0965},{"s":2,"t":22000,"b":0.0975},{"s":2,"t":23000,"b":0.097},{"s":2,"t":24000,"b":0.093},{"s":2,"t":25000,"b":0.077},{"s":2,"t":26000,"b":0.056},{"s":2,"t":27000,"b":0.035},{"s":2,"t":28000,"b":0.018},{"s":2,"t":29000,"b":0.008},{"s":2,"t":29650,"b":0.0035},
{"s":3,"t":1200,"b":0.0178},{"s":3,"t":2000,"b":0.041},{"s":3,"t":3000,"b":0.057},{"s":3,"t":4000,"b":0.0565},{"s":3,"t":5000,"b":0.059},{"s":3,"t":6000,"b":0.0605},{"s":3,"t":7000,"b":0.055},{"s":3,"t":8000,"b":0.044},{"s":3,"t":9000,"b":0.033},{"s":3,"t":10000,"b":0.024},{"s":3,"t":11000,"b":0.018},{"s":3,"t":12000,"b":0.0165},{"s":3,"t":13000,"b":0.020},{"s":3,"t":14000,"b":0.027},{"s":3,"t":15000,"b":0.032},{"s":3,"t":16000,"b":0.033},{"s":3,"t":16500,"b":0.031},{"s":3,"t":17000,"b":0.037},{"s":3,"t":18000,"b":0.057},{"s":3,"t":19000,"b":0.079},{"s":3,"t":20000,"b":0.092},{"s":3,"t":21000,"b":0.096},{"s":3,"t":22000,"b":0.097},{"s":3,"t":23000,"b":0.0965},{"s":3,"t":24000,"b":0.094},{"s":3,"t":25000,"b":0.082},{"s":3,"t":26000,"b":0.063},{"s":3,"t":27000,"b":0.042},{"s":3,"t":28000,"b":0.023},{"s":3,"t":29000,"b":0.010},{"s":3,"t":29650,"b":0.005},
{"s":4,"t":1200,"b":0.0176},{"s":4,"t":2000,"b":0.040},{"s":4,"t":3000,"b":0.0545},{"s":4,"t":4000,"b":0.054},{"s":4,"t":5000,"b":0.0565},{"s":4,"t":6000,"b":0.058},{"s":4,"t":7000,"b":0.054},{"s":4,"t":8000,"b":0.044},{"s":4,"t":9000,"b":0.034},{"s":4,"t":10000,"b":0.025},{"s":4,"t":11000,"b":0.021},{"s":4,"t":12000,"b":0.024},{"s":4,"t":13000,"b":0.025},{"s":4,"t":14000,"b":0.026},{"s":4,"t":15000,"b":0.026},{"s":4,"t":16000,"b":0.027},{"s":4,"t":16500,"b":0.029},{"s":4,"t":17000,"b":0.035},{"s":4,"t":18000,"b":0.055},{"s":4,"t":19000,"b":0.078},{"s":4,"t":20000,"b":0.0915},{"s":4,"t":21000,"b":0.0965},{"s":4,"t":22000,"b":0.0975},{"s":4,"t":23000,"b":0.097},{"s":4,"t":24000,"b":0.093},{"s":4,"t":25000,"b":0.079},{"s":4,"t":26000,"b":0.059},{"s":4,"t":27000,"b":0.040},{"s":4,"t":28000,"b":0.025},{"s":4,"t":29000,"b":0.0145},{"s":4,"t":29650,"b":0.0105},
{"s":5,"t":1200,"b":0.0176},{"s":5,"t":2000,"b":0.040},{"s":5,"t":3000,"b":0.055},{"s":5,"t":4000,"b":0.0545},{"s":5,"t":5000,"b":0.0575},{"s":5,"t":6000,"b":0.0595},{"s":5,"t":7000,"b":0.054},{"s":5,"t":8000,"b":0.043},{"s":5,"t":9000,"b":0.032},{"s":5,"t":10000,"b":0.023},{"s":5,"t":11000,"b":0.017},{"s":5,"t":12000,"b":0.0135},{"s":5,"t":13000,"b":0.014},{"s":5,"t":14000,"b":0.017},{"s":5,"t":15000,"b":0.020},{"s":5,"t":16000,"b":0.023},{"s":5,"t":16500,"b":0.025},{"s":5,"t":17000,"b":0.034},{"s":5,"t":18000,"b":0.056},{"s":5,"t":19000,"b":0.079},{"s":5,"t":20000,"b":0.092},{"s":5,"t":21000,"b":0.0965},{"s":5,"t":22000,"b":0.0975},{"s":5,"t":23000,"b":0.097},{"s":5,"t":24000,"b":0.094},{"s":5,"t":25000,"b":0.080},{"s":5,"t":26000,"b":0.060},{"s":5,"t":27000,"b":0.039},{"s":5,"t":28000,"b":0.020},{"s":5,"t":29000,"b":0.0085},{"s":5,"t":29650,"b":0.004}
]
},
"vconcat": [
 {
  "width": 931, "height": 136,
  "data": {"name": "rv"},
  "mark": {"type": "line", "strokeWidth": 0.6, "opacity": 0.45, "clip": true},
  "encoding": {
   "x": {"field": "t", "type": "quantitative", "scale": {"domain": [700, 30290], "nice": false, "zero": false}, "axis": {"labels": false, "title": null, "values": [5000, 10000, 15000, 20000, 25000, 30000]}},
   "y": {"field": "r", "type": "quantitative", "scale": {"domain": [-0.17, 3.88], "nice": false, "zero": false}, "axis": {"title": "r", "values": [0, 2], "format": "d"}},
   "color": {"field": "s", "type": "nominal", "scale": {"domain": [0, 1, 2, 3, 4, 5], "range": ["#1f77b4", "#ff7f0e", "#2ca02c", "#d62728", "#9467bd", "#8c564b"]}, "legend": null}
  }
 },
 {
  "width": 931, "height": 135,
  "data": {"name": "rv"},
  "mark": {"type": "line", "strokeWidth": 0.6, "opacity": 0.45, "clip": true},
  "encoding": {
   "x": {"field": "t", "type": "quantitative", "scale": {"domain": [700, 30290], "nice": false, "zero": false}, "axis": {"labels": false, "title": null, "values": [5000, 10000, 15000, 20000, 25000, 30000]}},
   "y": {"field": "v", "type": "quantitative", "scale": {"domain": [-4.17, 4.09], "nice": false, "zero": false}, "axis": {"title": "v", "values": [-2.5, 0, 2.5], "format": ".1f"}},
   "color": {"field": "s", "type": "nominal", "scale": {"domain": [0, 1, 2, 3, 4, 5], "range": ["#1f77b4", "#ff7f0e", "#2ca02c", "#d62728", "#9467bd", "#8c564b"]}, "legend": null}
  }
 },
 {
  "width": 931, "height": 136,
  "data": {"name": "bold"},
  "mark": {"type": "line", "strokeWidth": 0.7, "opacity": 0.4, "interpolate": "monotone", "clip": true},
  "encoding": {
   "x": {"field": "t", "type": "quantitative", "scale": {"domain": [700, 30290], "nice": false, "zero": false}, "axis": {"title": null, "values": [5000, 10000, 15000, 20000, 25000, 30000], "format": "d"}},
   "y": {"field": "b", "type": "quantitative", "scale": {"domain": [-0.0021, 0.1034], "nice": false, "zero": false}, "axis": {"title": "BOLD", "values": [0, 0.05, 0.1], "format": ".2f"}},
   "color": {"field": "s", "type": "nominal", "scale": {"domain": [0, 1, 2, 3, 4, 5], "range": ["#1f77b4", "#ff7f0e", "#2ca02c", "#d62728", "#9467bd", "#8c564b"]}, "legend": null}
  }
 }
]
}
